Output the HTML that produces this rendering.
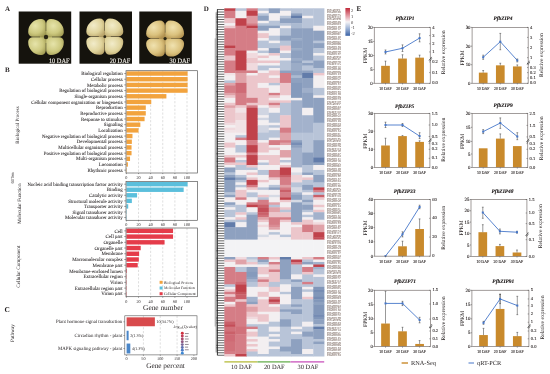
<!DOCTYPE html><html><head><meta charset="utf-8"><style>html,body{margin:0;padding:0;background:#fff;width:550px;height:374px;overflow:hidden}svg{display:block;will-change:transform}</style></head><body>
<svg width="550" height="374" viewBox="0 0 550 374" font-family="Liberation Serif, serif" text-rendering="geometricPrecision">
<defs><radialGradient id="sg0" cx="40%" cy="38%" r="72%"><stop offset="0" stop-color="#e6e4aa"/><stop offset="0.6" stop-color="#cdc97f"/><stop offset="1" stop-color="#a29c54"/></radialGradient><radialGradient id="sg1" cx="40%" cy="38%" r="72%"><stop offset="0" stop-color="#f2ecca"/><stop offset="0.6" stop-color="#e0d49c"/><stop offset="1" stop-color="#bba66c"/></radialGradient><radialGradient id="sg2" cx="40%" cy="38%" r="72%"><stop offset="0" stop-color="#f0e2b0"/><stop offset="0.6" stop-color="#dbc27e"/><stop offset="1" stop-color="#b29250"/></radialGradient></defs>
<text x="5.00" y="11.30" font-size="7.0" font-weight="bold" fill="#231f20">A</text>
<rect x="18.70" y="11.50" width="52.50" height="52.20" fill="#15130d"/>
<rect x="40.00" y="31.00" width="12" height="12" fill="#8e8a48"/>
<path d="M40.87,19.00 H41.22 A4.58,4.58 0 0 1 45.80,23.58 V35.04 A1.76,1.76 0 0 1 44.04,36.80 H32.78 A4.58,4.58 0 0 1 28.20,32.22 V31.67 A12.67,12.67 0 0 1 40.87,19.00 Z" fill="url(#sg0)"/>
<path d="M50.78,19.00 H51.13 A12.67,12.67 0 0 1 63.80,31.67 V32.22 A4.58,4.58 0 0 1 59.22,36.80 H47.96 A1.76,1.76 0 0 1 46.20,35.04 V23.58 A4.58,4.58 0 0 1 50.78,19.00 Z" fill="url(#sg0)"/>
<path d="M32.78,37.20 H44.04 A1.76,1.76 0 0 1 45.80,38.96 V50.42 A4.58,4.58 0 0 1 41.22,55.00 H40.87 A12.67,12.67 0 0 1 28.20,42.33 V41.78 A4.58,4.58 0 0 1 32.78,37.20 Z" fill="url(#sg0)"/>
<path d="M47.96,37.20 H59.22 A4.58,4.58 0 0 1 63.80,41.78 V42.33 A12.67,12.67 0 0 1 51.13,55.00 H50.78 A4.58,4.58 0 0 1 46.20,50.42 V38.96 A1.76,1.76 0 0 1 47.96,37.20 Z" fill="url(#sg0)"/>
<circle cx="46.00" cy="37.00" r="2.2" fill="#2a2614"/>
<text x="69.50" y="62.90" font-size="6.8" text-anchor="end" fill="#f2f0ea" textLength="20.6" lengthAdjust="spacingAndGlyphs" stroke="#f2f0ea" stroke-width="0.15">10 DAF</text>
<rect x="79.50" y="11.50" width="52.50" height="52.20" fill="#15130d"/>
<rect x="98.80" y="30.70" width="12" height="12" fill="#a08e5c"/>
<path d="M99.48,18.60 H99.84 A4.76,4.76 0 0 1 104.60,23.36 V34.67 A1.83,1.83 0 0 1 102.77,36.50 H91.06 A4.76,4.76 0 0 1 86.30,31.74 V31.78 A13.18,13.18 0 0 1 99.48,18.60 Z" fill="url(#sg1)"/>
<path d="M109.76,18.60 H110.12 A13.18,13.18 0 0 1 123.30,31.78 V31.74 A4.76,4.76 0 0 1 118.54,36.50 H106.83 A1.83,1.83 0 0 1 105.00,34.67 V23.36 A4.76,4.76 0 0 1 109.76,18.60 Z" fill="url(#sg1)"/>
<path d="M91.06,36.90 H102.77 A1.83,1.83 0 0 1 104.60,38.73 V50.04 A4.76,4.76 0 0 1 99.84,54.80 H99.48 A13.18,13.18 0 0 1 86.30,41.62 V41.66 A4.76,4.76 0 0 1 91.06,36.90 Z" fill="url(#sg1)"/>
<path d="M106.83,36.90 H118.54 A4.76,4.76 0 0 1 123.30,41.66 V41.62 A13.18,13.18 0 0 1 110.12,54.80 H109.76 A4.76,4.76 0 0 1 105.00,50.04 V38.73 A1.83,1.83 0 0 1 106.83,36.90 Z" fill="url(#sg1)"/>
<circle cx="104.80" cy="36.70" r="1.4" fill="#2a2614"/>
<text x="130.30" y="62.90" font-size="6.8" text-anchor="end" fill="#f2f0ea" textLength="20.6" lengthAdjust="spacingAndGlyphs" stroke="#f2f0ea" stroke-width="0.15">20 DAF</text>
<rect x="139.30" y="11.50" width="52.50" height="52.20" fill="#15130d"/>
<rect x="159.10" y="32.60" width="12" height="12" fill="#9a7e44"/>
<path d="M159.64,20.60 H160.01 A4.89,4.89 0 0 1 164.90,25.49 V36.52 A1.88,1.88 0 0 1 163.02,38.40 H150.99 A4.89,4.89 0 0 1 146.10,33.51 V34.14 A13.54,13.54 0 0 1 159.64,20.60 Z" fill="url(#sg2)"/>
<path d="M170.19,20.60 H170.56 A13.54,13.54 0 0 1 184.10,34.14 V33.51 A4.89,4.89 0 0 1 179.21,38.40 H167.18 A1.88,1.88 0 0 1 165.30,36.52 V25.49 A4.89,4.89 0 0 1 170.19,20.60 Z" fill="url(#sg2)"/>
<path d="M150.99,38.80 H163.02 A1.88,1.88 0 0 1 164.90,40.68 V51.71 A4.89,4.89 0 0 1 160.01,56.60 H159.64 A13.54,13.54 0 0 1 146.10,43.06 V43.69 A4.89,4.89 0 0 1 150.99,38.80 Z" fill="url(#sg2)"/>
<path d="M167.18,38.80 H179.21 A4.89,4.89 0 0 1 184.10,43.69 V43.06 A13.54,13.54 0 0 1 170.56,56.60 H170.19 A4.89,4.89 0 0 1 165.30,51.71 V40.68 A1.88,1.88 0 0 1 167.18,38.80 Z" fill="url(#sg2)"/>
<circle cx="165.10" cy="38.60" r="1.6" fill="#2a2614"/>
<text x="190.10" y="62.90" font-size="6.8" text-anchor="end" fill="#f2f0ea" textLength="20.6" lengthAdjust="spacingAndGlyphs" stroke="#f2f0ea" stroke-width="0.15">30 DAF</text>
<text x="5.00" y="71.70" font-size="7.0" font-weight="bold" fill="#231f20">B</text>
<line x1="138.52" y1="70.70" x2="138.52" y2="173.00" stroke="#b8b8b8" stroke-width="0.45" stroke-dasharray="2.2,1.6"/>
<line x1="150.64" y1="70.70" x2="150.64" y2="173.00" stroke="#b8b8b8" stroke-width="0.45" stroke-dasharray="2.2,1.6"/>
<line x1="162.76" y1="70.70" x2="162.76" y2="173.00" stroke="#b8b8b8" stroke-width="0.45" stroke-dasharray="2.2,1.6"/>
<line x1="174.88" y1="70.70" x2="174.88" y2="173.00" stroke="#b8b8b8" stroke-width="0.45" stroke-dasharray="2.2,1.6"/>
<line x1="187.00" y1="70.70" x2="187.00" y2="173.00" stroke="#b8b8b8" stroke-width="0.45" stroke-dasharray="2.2,1.6"/>
<rect x="126.40" y="71.34" width="61.21" height="4.40" fill="#f2a33e"/>
<text x="122.60" y="75.19" font-size="4.9" text-anchor="end" fill="#231f20" stroke="#231f20" stroke-width="0.06">Biological regulation</text>
<line x1="124.20" y1="73.54" x2="126.00" y2="73.54" stroke="#444" stroke-width="0.5"/>
<rect x="126.40" y="77.03" width="61.21" height="4.40" fill="#f2a33e"/>
<text x="122.60" y="80.88" font-size="4.9" text-anchor="end" fill="#231f20" stroke="#231f20" stroke-width="0.06">Cellular process</text>
<line x1="124.20" y1="79.23" x2="126.00" y2="79.23" stroke="#444" stroke-width="0.5"/>
<rect x="126.40" y="82.71" width="61.21" height="4.40" fill="#f2a33e"/>
<text x="122.60" y="86.56" font-size="4.9" text-anchor="end" fill="#231f20" stroke="#231f20" stroke-width="0.06">Metabolic process</text>
<line x1="124.20" y1="84.91" x2="126.00" y2="84.91" stroke="#444" stroke-width="0.5"/>
<rect x="126.40" y="88.39" width="61.21" height="4.40" fill="#f2a33e"/>
<text x="122.60" y="92.24" font-size="4.9" text-anchor="end" fill="#231f20" stroke="#231f20" stroke-width="0.06">Regulation of biological process</text>
<line x1="124.20" y1="90.59" x2="126.00" y2="90.59" stroke="#444" stroke-width="0.5"/>
<rect x="126.40" y="94.08" width="40.00" height="4.40" fill="#f2a33e"/>
<text x="122.60" y="97.93" font-size="4.9" text-anchor="end" fill="#231f20" stroke="#231f20" stroke-width="0.06">Single-organism process</text>
<line x1="124.20" y1="96.28" x2="126.00" y2="96.28" stroke="#444" stroke-width="0.5"/>
<rect x="126.40" y="99.76" width="24.85" height="4.40" fill="#f2a33e"/>
<text x="122.60" y="103.61" font-size="4.9" text-anchor="end" fill="#231f20" stroke="#231f20" stroke-width="0.06">Cellular component organization or biogenesis</text>
<line x1="124.20" y1="101.96" x2="126.00" y2="101.96" stroke="#444" stroke-width="0.5"/>
<rect x="126.40" y="105.44" width="19.39" height="4.40" fill="#f2a33e"/>
<text x="122.60" y="109.29" font-size="4.9" text-anchor="end" fill="#231f20" stroke="#231f20" stroke-width="0.06">Reproduction</text>
<line x1="124.20" y1="107.64" x2="126.00" y2="107.64" stroke="#444" stroke-width="0.5"/>
<rect x="126.40" y="111.12" width="19.39" height="4.40" fill="#f2a33e"/>
<text x="122.60" y="114.98" font-size="4.9" text-anchor="end" fill="#231f20" stroke="#231f20" stroke-width="0.06">Reproductive process</text>
<line x1="124.20" y1="113.33" x2="126.00" y2="113.33" stroke="#444" stroke-width="0.5"/>
<rect x="126.40" y="116.81" width="18.18" height="4.40" fill="#f2a33e"/>
<text x="122.60" y="120.66" font-size="4.9" text-anchor="end" fill="#231f20" stroke="#231f20" stroke-width="0.06">Response to stimulus</text>
<line x1="124.20" y1="119.01" x2="126.00" y2="119.01" stroke="#444" stroke-width="0.5"/>
<rect x="126.40" y="122.49" width="13.94" height="4.40" fill="#f2a33e"/>
<text x="122.60" y="126.34" font-size="4.9" text-anchor="end" fill="#231f20" stroke="#231f20" stroke-width="0.06">Signaling</text>
<line x1="124.20" y1="124.69" x2="126.00" y2="124.69" stroke="#444" stroke-width="0.5"/>
<rect x="126.40" y="128.18" width="12.12" height="4.40" fill="#f2a33e"/>
<text x="122.60" y="132.03" font-size="4.9" text-anchor="end" fill="#231f20" stroke="#231f20" stroke-width="0.06">Localization</text>
<line x1="124.20" y1="130.38" x2="126.00" y2="130.38" stroke="#444" stroke-width="0.5"/>
<rect x="126.40" y="133.86" width="6.06" height="4.40" fill="#f2a33e"/>
<text x="122.60" y="137.71" font-size="4.9" text-anchor="end" fill="#231f20" stroke="#231f20" stroke-width="0.06">Negative regulation of biological process</text>
<line x1="124.20" y1="136.06" x2="126.00" y2="136.06" stroke="#444" stroke-width="0.5"/>
<rect x="126.40" y="139.54" width="5.45" height="4.40" fill="#f2a33e"/>
<text x="122.60" y="143.39" font-size="4.9" text-anchor="end" fill="#231f20" stroke="#231f20" stroke-width="0.06">Developmental process</text>
<line x1="124.20" y1="141.74" x2="126.00" y2="141.74" stroke="#444" stroke-width="0.5"/>
<rect x="126.40" y="145.23" width="5.15" height="4.40" fill="#f2a33e"/>
<text x="122.60" y="149.08" font-size="4.9" text-anchor="end" fill="#231f20" stroke="#231f20" stroke-width="0.06">Multicellular organismal process</text>
<line x1="124.20" y1="147.43" x2="126.00" y2="147.43" stroke="#444" stroke-width="0.5"/>
<rect x="126.40" y="150.91" width="5.15" height="4.40" fill="#f2a33e"/>
<text x="122.60" y="154.76" font-size="4.9" text-anchor="end" fill="#231f20" stroke="#231f20" stroke-width="0.06">Positive regulation of biological process</text>
<line x1="124.20" y1="153.11" x2="126.00" y2="153.11" stroke="#444" stroke-width="0.5"/>
<rect x="126.40" y="156.59" width="3.64" height="4.40" fill="#f2a33e"/>
<text x="122.60" y="160.44" font-size="4.9" text-anchor="end" fill="#231f20" stroke="#231f20" stroke-width="0.06">Multi-organism process</text>
<line x1="124.20" y1="158.79" x2="126.00" y2="158.79" stroke="#444" stroke-width="0.5"/>
<rect x="126.40" y="162.28" width="1.51" height="4.40" fill="#f2a33e"/>
<text x="122.60" y="166.13" font-size="4.9" text-anchor="end" fill="#231f20" stroke="#231f20" stroke-width="0.06">Locomotion</text>
<line x1="124.20" y1="164.48" x2="126.00" y2="164.48" stroke="#444" stroke-width="0.5"/>
<rect x="126.40" y="167.96" width="0.36" height="4.40" fill="#f2a33e"/>
<text x="122.60" y="171.81" font-size="4.9" text-anchor="end" fill="#231f20" stroke="#231f20" stroke-width="0.06">Rhythmic process</text>
<line x1="124.20" y1="170.16" x2="126.00" y2="170.16" stroke="#444" stroke-width="0.5"/>
<rect x="126.00" y="70.70" width="71.40" height="102.30" fill="none" stroke="#5a5a5a" stroke-width="0.7"/>
<line x1="126.40" y1="173.00" x2="126.40" y2="174.10" stroke="#444" stroke-width="0.5"/>
<text x="126.40" y="178.90" font-size="4.2" text-anchor="middle" fill="#231f20">0</text>
<line x1="138.52" y1="173.00" x2="138.52" y2="174.10" stroke="#444" stroke-width="0.5"/>
<text x="138.52" y="178.90" font-size="4.2" text-anchor="middle" fill="#231f20">20</text>
<line x1="150.64" y1="173.00" x2="150.64" y2="174.10" stroke="#444" stroke-width="0.5"/>
<text x="150.64" y="178.90" font-size="4.2" text-anchor="middle" fill="#231f20">40</text>
<line x1="162.76" y1="173.00" x2="162.76" y2="174.10" stroke="#444" stroke-width="0.5"/>
<text x="162.76" y="178.90" font-size="4.2" text-anchor="middle" fill="#231f20">60</text>
<line x1="174.88" y1="173.00" x2="174.88" y2="174.10" stroke="#444" stroke-width="0.5"/>
<text x="174.88" y="178.90" font-size="4.2" text-anchor="middle" fill="#231f20">80</text>
<line x1="187.00" y1="173.00" x2="187.00" y2="174.10" stroke="#444" stroke-width="0.5"/>
<text x="187.00" y="178.90" font-size="4.2" text-anchor="middle" fill="#231f20">100</text>
<line x1="138.52" y1="181.40" x2="138.52" y2="220.30" stroke="#b8b8b8" stroke-width="0.45" stroke-dasharray="2.2,1.6"/>
<line x1="150.64" y1="181.40" x2="150.64" y2="220.30" stroke="#b8b8b8" stroke-width="0.45" stroke-dasharray="2.2,1.6"/>
<line x1="162.76" y1="181.40" x2="162.76" y2="220.30" stroke="#b8b8b8" stroke-width="0.45" stroke-dasharray="2.2,1.6"/>
<line x1="174.88" y1="181.40" x2="174.88" y2="220.30" stroke="#b8b8b8" stroke-width="0.45" stroke-dasharray="2.2,1.6"/>
<line x1="187.00" y1="181.40" x2="187.00" y2="220.30" stroke="#b8b8b8" stroke-width="0.45" stroke-dasharray="2.2,1.6"/>
<rect x="126.40" y="181.98" width="61.21" height="4.40" fill="#5bbfdc"/>
<text x="122.60" y="185.83" font-size="4.9" text-anchor="end" fill="#231f20" stroke="#231f20" stroke-width="0.06">Nucleic acid binding transcription factor activity</text>
<line x1="124.20" y1="184.18" x2="126.00" y2="184.18" stroke="#444" stroke-width="0.5"/>
<rect x="126.40" y="187.54" width="57.27" height="4.40" fill="#5bbfdc"/>
<text x="122.60" y="191.39" font-size="4.9" text-anchor="end" fill="#231f20" stroke="#231f20" stroke-width="0.06">Binding</text>
<line x1="124.20" y1="189.74" x2="126.00" y2="189.74" stroke="#444" stroke-width="0.5"/>
<rect x="126.40" y="193.09" width="10.67" height="4.40" fill="#5bbfdc"/>
<text x="122.60" y="196.94" font-size="4.9" text-anchor="end" fill="#231f20" stroke="#231f20" stroke-width="0.06">Catalytic activity</text>
<line x1="124.20" y1="195.29" x2="126.00" y2="195.29" stroke="#444" stroke-width="0.5"/>
<rect x="126.40" y="198.65" width="5.45" height="4.40" fill="#5bbfdc"/>
<text x="122.60" y="202.50" font-size="4.9" text-anchor="end" fill="#231f20" stroke="#231f20" stroke-width="0.06">Structural molecule activity</text>
<line x1="124.20" y1="200.85" x2="126.00" y2="200.85" stroke="#444" stroke-width="0.5"/>
<rect x="126.40" y="204.21" width="1.82" height="4.40" fill="#5bbfdc"/>
<text x="122.60" y="208.06" font-size="4.9" text-anchor="end" fill="#231f20" stroke="#231f20" stroke-width="0.06">Transporter activity</text>
<line x1="124.20" y1="206.41" x2="126.00" y2="206.41" stroke="#444" stroke-width="0.5"/>
<rect x="126.40" y="209.76" width="0.35" height="4.40" fill="#5bbfdc"/>
<text x="122.60" y="213.61" font-size="4.9" text-anchor="end" fill="#231f20" stroke="#231f20" stroke-width="0.06">Signal transducer activity</text>
<line x1="124.20" y1="211.96" x2="126.00" y2="211.96" stroke="#444" stroke-width="0.5"/>
<rect x="126.40" y="215.32" width="0.35" height="4.40" fill="#5bbfdc"/>
<text x="122.60" y="219.17" font-size="4.9" text-anchor="end" fill="#231f20" stroke="#231f20" stroke-width="0.06">Molecular transducer activity</text>
<line x1="124.20" y1="217.52" x2="126.00" y2="217.52" stroke="#444" stroke-width="0.5"/>
<rect x="126.00" y="181.40" width="71.40" height="38.90" fill="none" stroke="#5a5a5a" stroke-width="0.7"/>
<line x1="126.40" y1="220.30" x2="126.40" y2="221.40" stroke="#444" stroke-width="0.5"/>
<text x="126.40" y="226.20" font-size="4.2" text-anchor="middle" fill="#231f20">0</text>
<line x1="138.52" y1="220.30" x2="138.52" y2="221.40" stroke="#444" stroke-width="0.5"/>
<text x="138.52" y="226.20" font-size="4.2" text-anchor="middle" fill="#231f20">20</text>
<line x1="150.64" y1="220.30" x2="150.64" y2="221.40" stroke="#444" stroke-width="0.5"/>
<text x="150.64" y="226.20" font-size="4.2" text-anchor="middle" fill="#231f20">40</text>
<line x1="162.76" y1="220.30" x2="162.76" y2="221.40" stroke="#444" stroke-width="0.5"/>
<text x="162.76" y="226.20" font-size="4.2" text-anchor="middle" fill="#231f20">60</text>
<line x1="174.88" y1="220.30" x2="174.88" y2="221.40" stroke="#444" stroke-width="0.5"/>
<text x="174.88" y="226.20" font-size="4.2" text-anchor="middle" fill="#231f20">80</text>
<line x1="187.00" y1="220.30" x2="187.00" y2="221.40" stroke="#444" stroke-width="0.5"/>
<text x="187.00" y="226.20" font-size="4.2" text-anchor="middle" fill="#231f20">100</text>
<line x1="138.52" y1="228.00" x2="138.52" y2="296.70" stroke="#b8b8b8" stroke-width="0.45" stroke-dasharray="2.2,1.6"/>
<line x1="150.64" y1="228.00" x2="150.64" y2="296.70" stroke="#b8b8b8" stroke-width="0.45" stroke-dasharray="2.2,1.6"/>
<line x1="162.76" y1="228.00" x2="162.76" y2="296.70" stroke="#b8b8b8" stroke-width="0.45" stroke-dasharray="2.2,1.6"/>
<line x1="174.88" y1="228.00" x2="174.88" y2="296.70" stroke="#b8b8b8" stroke-width="0.45" stroke-dasharray="2.2,1.6"/>
<line x1="187.00" y1="228.00" x2="187.00" y2="296.70" stroke="#b8b8b8" stroke-width="0.45" stroke-dasharray="2.2,1.6"/>
<rect x="126.40" y="228.66" width="46.66" height="4.40" fill="#e53c4a"/>
<text x="122.60" y="232.51" font-size="4.9" text-anchor="end" fill="#231f20" stroke="#231f20" stroke-width="0.06">Cell</text>
<line x1="124.20" y1="230.86" x2="126.00" y2="230.86" stroke="#444" stroke-width="0.5"/>
<rect x="126.40" y="234.39" width="46.66" height="4.40" fill="#e53c4a"/>
<text x="122.60" y="238.24" font-size="4.9" text-anchor="end" fill="#231f20" stroke="#231f20" stroke-width="0.06">Cell part</text>
<line x1="124.20" y1="236.59" x2="126.00" y2="236.59" stroke="#444" stroke-width="0.5"/>
<rect x="126.40" y="240.11" width="38.18" height="4.40" fill="#e53c4a"/>
<text x="122.60" y="243.96" font-size="4.9" text-anchor="end" fill="#231f20" stroke="#231f20" stroke-width="0.06">Organelle</text>
<line x1="124.20" y1="242.31" x2="126.00" y2="242.31" stroke="#444" stroke-width="0.5"/>
<rect x="126.40" y="245.84" width="14.30" height="4.40" fill="#e53c4a"/>
<text x="122.60" y="249.69" font-size="4.9" text-anchor="end" fill="#231f20" stroke="#231f20" stroke-width="0.06">Organelle part</text>
<line x1="124.20" y1="248.04" x2="126.00" y2="248.04" stroke="#444" stroke-width="0.5"/>
<rect x="126.40" y="251.56" width="12.73" height="4.40" fill="#e53c4a"/>
<text x="122.60" y="255.41" font-size="4.9" text-anchor="end" fill="#231f20" stroke="#231f20" stroke-width="0.06">Membrane</text>
<line x1="124.20" y1="253.76" x2="126.00" y2="253.76" stroke="#444" stroke-width="0.5"/>
<rect x="126.40" y="257.29" width="12.42" height="4.40" fill="#e53c4a"/>
<text x="122.60" y="261.14" font-size="4.9" text-anchor="end" fill="#231f20" stroke="#231f20" stroke-width="0.06">Macromolecular complex</text>
<line x1="124.20" y1="259.49" x2="126.00" y2="259.49" stroke="#444" stroke-width="0.5"/>
<rect x="126.40" y="263.01" width="11.33" height="4.40" fill="#e53c4a"/>
<text x="122.60" y="266.86" font-size="4.9" text-anchor="end" fill="#231f20" stroke="#231f20" stroke-width="0.06">Membrane part</text>
<line x1="124.20" y1="265.21" x2="126.00" y2="265.21" stroke="#444" stroke-width="0.5"/>
<rect x="126.40" y="268.74" width="0.61" height="4.40" fill="#e53c4a"/>
<text x="122.60" y="272.59" font-size="4.9" text-anchor="end" fill="#231f20" stroke="#231f20" stroke-width="0.06">Membrane-enclosed lumen</text>
<line x1="124.20" y1="270.94" x2="126.00" y2="270.94" stroke="#444" stroke-width="0.5"/>
<rect x="126.40" y="274.46" width="0.35" height="4.40" fill="#e53c4a"/>
<text x="122.60" y="278.31" font-size="4.9" text-anchor="end" fill="#231f20" stroke="#231f20" stroke-width="0.06">Extracellular region</text>
<line x1="124.20" y1="276.66" x2="126.00" y2="276.66" stroke="#444" stroke-width="0.5"/>
<rect x="126.40" y="280.19" width="0.35" height="4.40" fill="#e53c4a"/>
<text x="122.60" y="284.04" font-size="4.9" text-anchor="end" fill="#231f20" stroke="#231f20" stroke-width="0.06">Virion</text>
<line x1="124.20" y1="282.39" x2="126.00" y2="282.39" stroke="#444" stroke-width="0.5"/>
<rect x="126.40" y="285.91" width="0.35" height="4.40" fill="#e53c4a"/>
<text x="122.60" y="289.76" font-size="4.9" text-anchor="end" fill="#231f20" stroke="#231f20" stroke-width="0.06">Extracellular region part</text>
<line x1="124.20" y1="288.11" x2="126.00" y2="288.11" stroke="#444" stroke-width="0.5"/>
<rect x="126.40" y="291.64" width="0.35" height="4.40" fill="#e53c4a"/>
<text x="122.60" y="295.49" font-size="4.9" text-anchor="end" fill="#231f20" stroke="#231f20" stroke-width="0.06">Virion part</text>
<line x1="124.20" y1="293.84" x2="126.00" y2="293.84" stroke="#444" stroke-width="0.5"/>
<rect x="126.00" y="228.00" width="71.40" height="68.70" fill="none" stroke="#5a5a5a" stroke-width="0.7"/>
<line x1="126.40" y1="296.70" x2="126.40" y2="297.80" stroke="#444" stroke-width="0.5"/>
<text x="126.40" y="302.60" font-size="4.2" text-anchor="middle" fill="#231f20">0</text>
<line x1="138.52" y1="296.70" x2="138.52" y2="297.80" stroke="#444" stroke-width="0.5"/>
<text x="138.52" y="302.60" font-size="4.2" text-anchor="middle" fill="#231f20">20</text>
<line x1="150.64" y1="296.70" x2="150.64" y2="297.80" stroke="#444" stroke-width="0.5"/>
<text x="150.64" y="302.60" font-size="4.2" text-anchor="middle" fill="#231f20">40</text>
<line x1="162.76" y1="296.70" x2="162.76" y2="297.80" stroke="#444" stroke-width="0.5"/>
<text x="162.76" y="302.60" font-size="4.2" text-anchor="middle" fill="#231f20">60</text>
<line x1="174.88" y1="296.70" x2="174.88" y2="297.80" stroke="#444" stroke-width="0.5"/>
<text x="174.88" y="302.60" font-size="4.2" text-anchor="middle" fill="#231f20">80</text>
<line x1="187.00" y1="296.70" x2="187.00" y2="297.80" stroke="#444" stroke-width="0.5"/>
<text x="187.00" y="302.60" font-size="4.2" text-anchor="middle" fill="#231f20">100</text>
<rect x="159.60" y="280.80" width="3.00" height="3.00" fill="#f2a33e"/>
<text x="164.00" y="283.60" font-size="3.9" fill="#231f20">Biological Process</text>
<rect x="159.60" y="286.50" width="3.00" height="3.00" fill="#5bbfdc"/>
<text x="164.00" y="289.30" font-size="3.9" fill="#231f20">Molecular Function</text>
<rect x="159.60" y="292.20" width="3.00" height="3.00" fill="#e53c4a"/>
<text x="164.00" y="295.00" font-size="3.9" fill="#231f20">Cellular Component</text>
<text x="163.00" y="310.00" font-size="7.35" text-anchor="middle" fill="#231f20">Gene number</text>
<text x="19.30" y="125.00" font-size="5.0" text-anchor="middle" fill="#231f20" transform="rotate(-90 19.3 125.0)">Biological Process</text>
<text x="14.50" y="177.80" font-size="4.6" text-anchor="middle" fill="#231f20" transform="rotate(-90 14.5 177.8)" textLength="10.8" lengthAdjust="spacingAndGlyphs">GO Term</text>
<text x="20.90" y="203.70" font-size="5.1" text-anchor="middle" fill="#231f20" transform="rotate(-90 20.9 203.7)">Molecular Function</text>
<text x="19.70" y="266.70" font-size="5.2" text-anchor="middle" fill="#231f20" transform="rotate(-90 19.7 266.7)">Cellular Component</text>
<text x="4.60" y="311.80" font-size="7.4" font-weight="bold" fill="#231f20">C</text>
<text x="14.20" y="333.00" font-size="5.2" text-anchor="middle" fill="#231f20" transform="rotate(-90 14.2 333.0)">Pathway</text>
<line x1="143.42" y1="315.80" x2="143.42" y2="354.90" stroke="#b8b8b8" stroke-width="0.45" stroke-dasharray="2.2,1.6"/>
<line x1="160.25" y1="315.80" x2="160.25" y2="354.90" stroke="#b8b8b8" stroke-width="0.45" stroke-dasharray="2.2,1.6"/>
<line x1="177.07" y1="315.80" x2="177.07" y2="354.90" stroke="#b8b8b8" stroke-width="0.45" stroke-dasharray="2.2,1.6"/>
<rect x="126.60" y="317.35" width="28.27" height="8.90" fill="#d84a4c"/>
<text x="122.30" y="323.40" font-size="4.85" text-anchor="end" fill="#231f20">Plant hormone signal transduction</text>
<line x1="123.30" y1="321.80" x2="124.80" y2="321.80" stroke="#444" stroke-width="0.45"/>
<text x="156.47" y="323.20" font-size="4.0" fill="#231f20">10(34.7%)</text>
<rect x="126.60" y="330.75" width="2.02" height="9.50" fill="#4a86c8"/>
<text x="122.30" y="337.10" font-size="4.85" text-anchor="end" fill="#231f20">Circadian rhythm - plant</text>
<line x1="123.30" y1="335.50" x2="124.80" y2="335.50" stroke="#444" stroke-width="0.45"/>
<text x="130.22" y="336.90" font-size="4.0" fill="#231f20">2(1.3%)</text>
<rect x="126.60" y="343.55" width="3.70" height="9.90" fill="#4a86c8"/>
<text x="122.30" y="350.10" font-size="4.85" text-anchor="end" fill="#231f20">MAPK signaling pathway - plant</text>
<line x1="123.30" y1="348.50" x2="124.80" y2="348.50" stroke="#444" stroke-width="0.45"/>
<text x="131.90" y="349.90" font-size="4.0" fill="#231f20">4(1.3%)</text>
<rect x="124.8" y="315.8" width="72.20" height="39.10" fill="none" stroke="#555" stroke-width="0.6"/>
<line x1="126.60" y1="354.90" x2="126.60" y2="356.00" stroke="#444" stroke-width="0.45"/>
<text x="126.60" y="360.20" font-size="4.2" text-anchor="middle" fill="#231f20">0</text>
<line x1="143.42" y1="354.90" x2="143.42" y2="356.00" stroke="#444" stroke-width="0.45"/>
<text x="143.42" y="360.20" font-size="4.2" text-anchor="middle" fill="#231f20">50</text>
<line x1="160.25" y1="354.90" x2="160.25" y2="356.00" stroke="#444" stroke-width="0.45"/>
<text x="160.25" y="360.20" font-size="4.2" text-anchor="middle" fill="#231f20">100</text>
<line x1="177.07" y1="354.90" x2="177.07" y2="356.00" stroke="#444" stroke-width="0.45"/>
<text x="177.07" y="360.20" font-size="4.2" text-anchor="middle" fill="#231f20">150</text>
<line x1="193.90" y1="354.90" x2="193.90" y2="356.00" stroke="#444" stroke-width="0.45"/>
<text x="193.90" y="360.20" font-size="4.2" text-anchor="middle" fill="#231f20">200</text>
<text x="165.50" y="367.80" font-size="7.3" text-anchor="middle" fill="#231f20">Gene percent</text>
<text x="173.00" y="327.60" font-size="4.1" fill="#2e2828">-log<tspan font-size="2.7" dy="0.9">10</tspan><tspan dy="-0.9">(Qvalue)</tspan></text>
<circle cx="182.3" cy="333.20" r="1.45" fill="#d0303e"/>
<circle cx="182.3" cy="336.05" r="1.45" fill="#c03a56"/>
<circle cx="182.3" cy="338.90" r="1.45" fill="#a84a6c"/>
<circle cx="182.3" cy="341.75" r="1.45" fill="#905880"/>
<circle cx="182.3" cy="344.60" r="1.45" fill="#786596"/>
<circle cx="182.3" cy="347.45" r="1.45" fill="#6070ae"/>
<circle cx="182.3" cy="350.30" r="1.45" fill="#4c7cc4"/>
<circle cx="182.3" cy="353.15" r="1.45" fill="#3e88d4"/>
<rect x="184.90" y="333.15" width="3.80" height="0.90" fill="#8a8088"/>
<rect x="184.90" y="335.85" width="3.20" height="0.90" fill="#8a8088"/>
<rect x="184.90" y="338.55" width="3.80" height="0.90" fill="#8a8088"/>
<rect x="184.90" y="341.25" width="3.20" height="0.90" fill="#8a8088"/>
<rect x="184.90" y="343.95" width="3.80" height="0.90" fill="#8a8088"/>
<rect x="184.90" y="346.65" width="3.20" height="0.90" fill="#8a8088"/>
<rect x="184.90" y="349.35" width="3.80" height="0.90" fill="#8a8088"/>
<text x="203.70" y="10.90" font-size="7.0" font-weight="bold" fill="#231f20">D</text>
<defs><filter id="hb" x="-2%" y="-1%" width="104%" height="102%"><feGaussianBlur stdDeviation="0.45"/></filter></defs>
<g filter="url(#hb)">
<rect x="224.30" y="8.30" width="11.52" height="2.89" fill="#c0424c"/>
<rect x="224.30" y="10.79" width="11.52" height="7.86" fill="#d57d86"/>
<rect x="224.30" y="18.25" width="11.52" height="5.37" fill="#ecc6cb"/>
<rect x="224.30" y="23.22" width="11.52" height="2.89" fill="#f3eff1"/>
<rect x="224.30" y="25.71" width="11.52" height="2.89" fill="#ecc6cb"/>
<rect x="224.30" y="28.20" width="11.52" height="17.81" fill="#d57d86"/>
<rect x="224.30" y="45.61" width="11.52" height="2.89" fill="#c0424c"/>
<rect x="224.30" y="48.09" width="11.52" height="7.86" fill="#d57d86"/>
<rect x="224.30" y="55.56" width="11.52" height="5.37" fill="#ecc6cb"/>
<rect x="224.30" y="60.53" width="11.52" height="12.84" fill="#d57d86"/>
<rect x="224.30" y="72.97" width="11.52" height="2.89" fill="#f1e3e6"/>
<rect x="224.30" y="75.45" width="11.52" height="5.37" fill="#f3eff1"/>
<rect x="224.30" y="80.43" width="11.52" height="2.89" fill="#b8c4d8"/>
<rect x="224.30" y="82.91" width="11.52" height="2.89" fill="#e0a2a8"/>
<rect x="224.30" y="85.40" width="11.52" height="7.86" fill="#d57d86"/>
<rect x="224.30" y="92.86" width="11.52" height="2.89" fill="#e0a2a8"/>
<rect x="224.30" y="95.35" width="11.52" height="2.89" fill="#ecc6cb"/>
<rect x="224.30" y="97.84" width="11.52" height="5.37" fill="#f3eff1"/>
<rect x="224.30" y="102.81" width="11.52" height="2.89" fill="#ecc6cb"/>
<rect x="224.30" y="105.30" width="11.52" height="2.89" fill="#e0a2a8"/>
<rect x="224.30" y="107.79" width="11.52" height="15.32" fill="#ecc6cb"/>
<rect x="224.30" y="122.71" width="11.52" height="2.89" fill="#f0dade"/>
<rect x="224.30" y="125.20" width="11.52" height="2.89" fill="#f3eff1"/>
<rect x="224.30" y="127.68" width="11.52" height="2.89" fill="#f0dade"/>
<rect x="224.30" y="130.17" width="11.52" height="2.89" fill="#f1e3e6"/>
<rect x="224.30" y="132.66" width="11.52" height="10.35" fill="#f3eff1"/>
<rect x="224.30" y="142.61" width="11.52" height="5.37" fill="#ecc6cb"/>
<rect x="224.30" y="147.58" width="11.52" height="7.86" fill="#f3eff1"/>
<rect x="224.30" y="155.04" width="11.52" height="2.89" fill="#ecc6cb"/>
<rect x="224.30" y="157.53" width="11.52" height="5.37" fill="#d57d86"/>
<rect x="224.30" y="162.50" width="11.52" height="2.89" fill="#ecc6cb"/>
<rect x="224.30" y="164.99" width="11.52" height="2.89" fill="#f3eff1"/>
<rect x="224.30" y="167.48" width="11.52" height="5.37" fill="#8ea1c0"/>
<rect x="224.30" y="172.45" width="11.52" height="2.89" fill="#b8c4d8"/>
<rect x="224.30" y="174.94" width="11.52" height="2.89" fill="#8ea1c0"/>
<rect x="224.30" y="177.43" width="11.52" height="2.89" fill="#627caa"/>
<rect x="224.30" y="179.91" width="11.52" height="12.84" fill="#8ea1c0"/>
<rect x="224.30" y="192.35" width="11.52" height="2.89" fill="#b8c4d8"/>
<rect x="224.30" y="194.84" width="11.52" height="2.89" fill="#8ea1c0"/>
<rect x="224.30" y="197.32" width="11.52" height="5.37" fill="#f3eff1"/>
<rect x="224.30" y="202.30" width="11.52" height="2.89" fill="#8ea1c0"/>
<rect x="224.30" y="204.78" width="11.52" height="2.89" fill="#b8c4d8"/>
<rect x="224.30" y="207.27" width="11.52" height="2.89" fill="#f3eff1"/>
<rect x="224.30" y="209.76" width="11.52" height="7.86" fill="#b8c4d8"/>
<rect x="224.30" y="217.22" width="11.52" height="2.89" fill="#f3eff1"/>
<rect x="224.30" y="219.71" width="11.52" height="2.89" fill="#b8c4d8"/>
<rect x="224.30" y="222.19" width="11.52" height="5.37" fill="#627caa"/>
<rect x="224.30" y="227.17" width="11.52" height="12.84" fill="#8ea1c0"/>
<rect x="224.30" y="239.60" width="11.52" height="17.81" fill="#f3f3f5"/>
<rect x="224.30" y="257.01" width="11.52" height="2.89" fill="#8ea1c0"/>
<rect x="224.30" y="259.50" width="11.52" height="2.89" fill="#ecc6cb"/>
<rect x="224.30" y="261.99" width="11.52" height="5.37" fill="#f3eff1"/>
<rect x="224.30" y="266.96" width="11.52" height="17.81" fill="#d57d86"/>
<rect x="224.30" y="284.37" width="11.52" height="2.89" fill="#b8c4d8"/>
<rect x="224.30" y="286.86" width="11.52" height="2.89" fill="#f3eff1"/>
<rect x="224.30" y="289.35" width="11.52" height="2.89" fill="#ecc6cb"/>
<rect x="224.30" y="291.83" width="11.52" height="2.89" fill="#d57d86"/>
<rect x="224.30" y="294.32" width="11.52" height="2.89" fill="#ecc6cb"/>
<rect x="224.30" y="296.81" width="11.52" height="5.37" fill="#d57d86"/>
<rect x="224.30" y="301.78" width="11.52" height="2.89" fill="#f3eff1"/>
<rect x="224.30" y="304.27" width="11.52" height="2.89" fill="#ecc6cb"/>
<rect x="224.30" y="306.76" width="11.52" height="15.32" fill="#d57d86"/>
<rect x="224.30" y="321.68" width="11.52" height="2.89" fill="#ca6069"/>
<rect x="224.30" y="324.17" width="11.52" height="2.89" fill="#c44e58"/>
<rect x="224.30" y="326.65" width="11.52" height="5.37" fill="#d1717a"/>
<rect x="224.30" y="331.63" width="11.52" height="2.89" fill="#ca6069"/>
<rect x="224.30" y="334.12" width="11.52" height="7.86" fill="#cf6b75"/>
<rect x="224.30" y="341.58" width="11.52" height="10.35" fill="#d1717a"/>
<rect x="224.30" y="351.53" width="11.52" height="2.89" fill="#d57d86"/>
<rect x="224.30" y="354.01" width="11.52" height="2.49" fill="#ecc6cb"/>
<rect x="235.42" y="8.30" width="11.52" height="2.89" fill="#b8c4d8"/>
<rect x="235.42" y="10.79" width="11.52" height="7.86" fill="#f3eff1"/>
<rect x="235.42" y="18.25" width="11.52" height="7.86" fill="#c0424c"/>
<rect x="235.42" y="25.71" width="11.52" height="25.27" fill="#d57d86"/>
<rect x="235.42" y="50.58" width="11.52" height="20.30" fill="#c0424c"/>
<rect x="235.42" y="70.48" width="11.52" height="2.89" fill="#d57d86"/>
<rect x="235.42" y="72.97" width="11.52" height="10.35" fill="#e0a2a8"/>
<rect x="235.42" y="82.91" width="11.52" height="10.35" fill="#cf6b75"/>
<rect x="235.42" y="92.86" width="11.52" height="12.84" fill="#d57d86"/>
<rect x="235.42" y="105.30" width="11.52" height="2.89" fill="#ecc6cb"/>
<rect x="235.42" y="107.79" width="11.52" height="5.37" fill="#f1e3e6"/>
<rect x="235.42" y="112.76" width="11.52" height="7.86" fill="#eed2d6"/>
<rect x="235.42" y="120.22" width="11.52" height="12.84" fill="#f1e3e6"/>
<rect x="235.42" y="132.66" width="11.52" height="2.89" fill="#f3eff1"/>
<rect x="235.42" y="135.14" width="11.52" height="2.89" fill="#b8c4d8"/>
<rect x="235.42" y="137.63" width="11.52" height="2.89" fill="#d57d86"/>
<rect x="235.42" y="140.12" width="11.52" height="5.37" fill="#f3eff1"/>
<rect x="235.42" y="145.09" width="11.52" height="7.86" fill="#b8c4d8"/>
<rect x="235.42" y="152.55" width="11.52" height="2.89" fill="#f3eff1"/>
<rect x="235.42" y="155.04" width="11.52" height="2.89" fill="#ecc6cb"/>
<rect x="235.42" y="157.53" width="11.52" height="2.89" fill="#f3eff1"/>
<rect x="235.42" y="160.02" width="11.52" height="2.89" fill="#b8c4d8"/>
<rect x="235.42" y="162.50" width="11.52" height="2.89" fill="#ecc6cb"/>
<rect x="235.42" y="164.99" width="11.52" height="5.37" fill="#b8c4d8"/>
<rect x="235.42" y="169.96" width="11.52" height="5.37" fill="#f3eff1"/>
<rect x="235.42" y="174.94" width="11.52" height="2.89" fill="#b8c4d8"/>
<rect x="235.42" y="177.43" width="11.52" height="2.89" fill="#8ea1c0"/>
<rect x="235.42" y="179.91" width="11.52" height="2.89" fill="#b8c4d8"/>
<rect x="235.42" y="182.40" width="11.52" height="2.89" fill="#f3eff1"/>
<rect x="235.42" y="184.89" width="11.52" height="2.89" fill="#b8c4d8"/>
<rect x="235.42" y="187.37" width="11.52" height="2.89" fill="#f3eff1"/>
<rect x="235.42" y="189.86" width="11.52" height="7.86" fill="#ecc6cb"/>
<rect x="235.42" y="197.32" width="11.52" height="2.89" fill="#d57d86"/>
<rect x="235.42" y="199.81" width="11.52" height="5.37" fill="#f3eff1"/>
<rect x="235.42" y="204.78" width="11.52" height="7.86" fill="#b8c4d8"/>
<rect x="235.42" y="212.25" width="11.52" height="2.89" fill="#ecc6cb"/>
<rect x="235.42" y="214.73" width="11.52" height="2.89" fill="#f3eff1"/>
<rect x="235.42" y="217.22" width="11.52" height="2.89" fill="#ecc6cb"/>
<rect x="235.42" y="219.71" width="11.52" height="2.89" fill="#b8c4d8"/>
<rect x="235.42" y="222.19" width="11.52" height="5.37" fill="#f3eff1"/>
<rect x="235.42" y="227.17" width="11.52" height="12.84" fill="#8ea1c0"/>
<rect x="235.42" y="239.60" width="11.52" height="17.81" fill="#f3f3f5"/>
<rect x="235.42" y="257.01" width="11.52" height="2.89" fill="#f0dade"/>
<rect x="235.42" y="259.50" width="11.52" height="5.37" fill="#e0a2a8"/>
<rect x="235.42" y="264.48" width="11.52" height="2.89" fill="#f3eff1"/>
<rect x="235.42" y="266.96" width="11.52" height="5.37" fill="#b8c4d8"/>
<rect x="235.42" y="271.94" width="11.52" height="10.35" fill="#d57d86"/>
<rect x="235.42" y="281.89" width="11.52" height="2.89" fill="#cf6b75"/>
<rect x="235.42" y="284.37" width="11.52" height="7.86" fill="#c0424c"/>
<rect x="235.42" y="291.83" width="11.52" height="2.89" fill="#c6545d"/>
<rect x="235.42" y="294.32" width="11.52" height="5.37" fill="#ca6069"/>
<rect x="235.42" y="299.30" width="11.52" height="2.89" fill="#ecc6cb"/>
<rect x="235.42" y="301.78" width="11.52" height="25.27" fill="#d57d86"/>
<rect x="235.42" y="326.65" width="11.52" height="7.86" fill="#d1717a"/>
<rect x="235.42" y="334.12" width="11.52" height="20.30" fill="#d57d86"/>
<rect x="235.42" y="354.01" width="11.52" height="2.49" fill="#c0424c"/>
<rect x="246.54" y="8.30" width="11.52" height="2.89" fill="#d57d86"/>
<rect x="246.54" y="10.79" width="11.52" height="5.37" fill="#c0424c"/>
<rect x="246.54" y="15.76" width="11.52" height="7.86" fill="#de9aa2"/>
<rect x="246.54" y="23.22" width="11.52" height="2.89" fill="#d57d86"/>
<rect x="246.54" y="25.71" width="11.52" height="2.89" fill="#c0424c"/>
<rect x="246.54" y="28.20" width="11.52" height="22.78" fill="#d57d86"/>
<rect x="246.54" y="50.58" width="11.52" height="2.89" fill="#f3eff1"/>
<rect x="246.54" y="53.07" width="11.52" height="5.37" fill="#f0dade"/>
<rect x="246.54" y="58.04" width="11.52" height="5.37" fill="#ecc6cb"/>
<rect x="246.54" y="63.02" width="11.52" height="7.86" fill="#f0dade"/>
<rect x="246.54" y="70.48" width="11.52" height="2.89" fill="#d57d86"/>
<rect x="246.54" y="72.97" width="11.52" height="2.89" fill="#f3eff1"/>
<rect x="246.54" y="75.45" width="11.52" height="22.78" fill="#ecc6cb"/>
<rect x="246.54" y="97.84" width="11.52" height="5.37" fill="#d57d86"/>
<rect x="246.54" y="102.81" width="11.52" height="2.89" fill="#ecc6cb"/>
<rect x="246.54" y="105.30" width="11.52" height="2.89" fill="#d57d86"/>
<rect x="246.54" y="107.79" width="11.52" height="32.73" fill="#c0424c"/>
<rect x="246.54" y="140.12" width="11.52" height="5.37" fill="#d57d86"/>
<rect x="246.54" y="145.09" width="11.52" height="7.86" fill="#c0424c"/>
<rect x="246.54" y="152.55" width="11.52" height="2.89" fill="#d57d86"/>
<rect x="246.54" y="155.04" width="11.52" height="10.35" fill="#c0424c"/>
<rect x="246.54" y="164.99" width="11.52" height="2.89" fill="#ecc6cb"/>
<rect x="246.54" y="167.48" width="11.52" height="2.89" fill="#b8c4d8"/>
<rect x="246.54" y="169.96" width="11.52" height="2.89" fill="#f3eff1"/>
<rect x="246.54" y="172.45" width="11.52" height="2.89" fill="#ecc6cb"/>
<rect x="246.54" y="174.94" width="11.52" height="2.89" fill="#f3eff1"/>
<rect x="246.54" y="177.43" width="11.52" height="2.89" fill="#ecc6cb"/>
<rect x="246.54" y="179.91" width="11.52" height="5.37" fill="#c0424c"/>
<rect x="246.54" y="184.89" width="11.52" height="2.89" fill="#d57d86"/>
<rect x="246.54" y="187.37" width="11.52" height="2.89" fill="#ecc6cb"/>
<rect x="246.54" y="189.86" width="11.52" height="2.89" fill="#f3eff1"/>
<rect x="246.54" y="192.35" width="11.52" height="5.37" fill="#b8c4d8"/>
<rect x="246.54" y="197.32" width="11.52" height="5.37" fill="#f3eff1"/>
<rect x="246.54" y="202.30" width="11.52" height="2.89" fill="#d57d86"/>
<rect x="246.54" y="204.78" width="11.52" height="2.89" fill="#c0424c"/>
<rect x="246.54" y="207.27" width="11.52" height="5.37" fill="#f3eff1"/>
<rect x="246.54" y="212.25" width="11.52" height="2.89" fill="#b8c4d8"/>
<rect x="246.54" y="214.73" width="11.52" height="25.27" fill="#8ea1c0"/>
<rect x="246.54" y="239.60" width="11.52" height="17.81" fill="#f3f3f5"/>
<rect x="246.54" y="257.01" width="11.52" height="2.89" fill="#b8c4d8"/>
<rect x="246.54" y="259.50" width="11.52" height="2.89" fill="#d6dae4"/>
<rect x="246.54" y="261.99" width="11.52" height="2.89" fill="#ecc6cb"/>
<rect x="246.54" y="264.48" width="11.52" height="2.89" fill="#f3eff1"/>
<rect x="246.54" y="266.96" width="11.52" height="5.37" fill="#8ea1c0"/>
<rect x="246.54" y="271.94" width="11.52" height="5.37" fill="#859abc"/>
<rect x="246.54" y="276.91" width="11.52" height="2.89" fill="#8ea1c0"/>
<rect x="246.54" y="279.40" width="11.52" height="2.89" fill="#a3b2cc"/>
<rect x="246.54" y="281.89" width="11.52" height="5.37" fill="#b8c4d8"/>
<rect x="246.54" y="286.86" width="11.52" height="10.35" fill="#f3eff1"/>
<rect x="246.54" y="296.81" width="11.52" height="5.37" fill="#a3b2cc"/>
<rect x="246.54" y="301.78" width="11.52" height="2.89" fill="#8ea1c0"/>
<rect x="246.54" y="304.27" width="11.52" height="2.89" fill="#ecc6cb"/>
<rect x="246.54" y="306.76" width="11.52" height="5.37" fill="#e0a2a8"/>
<rect x="246.54" y="311.73" width="11.52" height="5.37" fill="#ecc6cb"/>
<rect x="246.54" y="316.71" width="11.52" height="2.89" fill="#f0dade"/>
<rect x="246.54" y="319.19" width="11.52" height="5.37" fill="#f3eff1"/>
<rect x="246.54" y="324.17" width="11.52" height="2.89" fill="#b8c4d8"/>
<rect x="246.54" y="326.65" width="11.52" height="2.89" fill="#d57d86"/>
<rect x="246.54" y="329.14" width="11.52" height="2.89" fill="#f3eff1"/>
<rect x="246.54" y="331.63" width="11.52" height="5.37" fill="#ecc6cb"/>
<rect x="246.54" y="336.60" width="11.52" height="2.89" fill="#f3eff1"/>
<rect x="246.54" y="339.09" width="11.52" height="2.89" fill="#ecc6cb"/>
<rect x="246.54" y="341.58" width="11.52" height="2.89" fill="#f3eff1"/>
<rect x="246.54" y="344.06" width="11.52" height="2.89" fill="#ecc6cb"/>
<rect x="246.54" y="346.55" width="11.52" height="2.89" fill="#f3eff1"/>
<rect x="246.54" y="349.04" width="11.52" height="2.89" fill="#ecc6cb"/>
<rect x="246.54" y="351.53" width="11.52" height="4.97" fill="#b8c4d8"/>
<rect x="257.67" y="8.30" width="11.52" height="2.89" fill="#b8c4d8"/>
<rect x="257.67" y="10.79" width="11.52" height="2.89" fill="#f3eff1"/>
<rect x="257.67" y="13.27" width="11.52" height="2.89" fill="#b8c4d8"/>
<rect x="257.67" y="15.76" width="11.52" height="5.37" fill="#8ea1c0"/>
<rect x="257.67" y="20.74" width="11.52" height="2.89" fill="#f3eff1"/>
<rect x="257.67" y="23.22" width="11.52" height="2.89" fill="#b8c4d8"/>
<rect x="257.67" y="25.71" width="11.52" height="5.37" fill="#8ea1c0"/>
<rect x="257.67" y="30.68" width="11.52" height="2.89" fill="#f3eff1"/>
<rect x="257.67" y="33.17" width="11.52" height="5.37" fill="#ecc6cb"/>
<rect x="257.67" y="38.15" width="11.52" height="2.89" fill="#f3eff1"/>
<rect x="257.67" y="40.63" width="11.52" height="7.86" fill="#b8c4d8"/>
<rect x="257.67" y="48.09" width="11.52" height="2.89" fill="#f3eff1"/>
<rect x="257.67" y="50.58" width="11.52" height="2.89" fill="#b8c4d8"/>
<rect x="257.67" y="53.07" width="11.52" height="2.89" fill="#f3eff1"/>
<rect x="257.67" y="55.56" width="11.52" height="2.89" fill="#ecc6cb"/>
<rect x="257.67" y="58.04" width="11.52" height="2.89" fill="#f3eff1"/>
<rect x="257.67" y="60.53" width="11.52" height="2.89" fill="#ecc6cb"/>
<rect x="257.67" y="63.02" width="11.52" height="2.89" fill="#f3eff1"/>
<rect x="257.67" y="65.50" width="11.52" height="5.37" fill="#b8c4d8"/>
<rect x="257.67" y="70.48" width="11.52" height="2.89" fill="#f3eff1"/>
<rect x="257.67" y="72.97" width="11.52" height="10.35" fill="#ecc6cb"/>
<rect x="257.67" y="82.91" width="11.52" height="5.37" fill="#f3eff1"/>
<rect x="257.67" y="87.89" width="11.52" height="17.81" fill="#ecc6cb"/>
<rect x="257.67" y="105.30" width="11.52" height="2.89" fill="#f3eff1"/>
<rect x="257.67" y="107.79" width="11.52" height="7.86" fill="#d0d5e2"/>
<rect x="257.67" y="115.25" width="11.52" height="2.89" fill="#f3eff1"/>
<rect x="257.67" y="117.73" width="11.52" height="2.89" fill="#d0d5e2"/>
<rect x="257.67" y="120.22" width="11.52" height="5.37" fill="#f3eff1"/>
<rect x="257.67" y="125.20" width="11.52" height="7.86" fill="#d0d5e2"/>
<rect x="257.67" y="132.66" width="11.52" height="7.86" fill="#b8c4d8"/>
<rect x="257.67" y="140.12" width="11.52" height="2.89" fill="#f3eff1"/>
<rect x="257.67" y="142.61" width="11.52" height="10.35" fill="#ecc6cb"/>
<rect x="257.67" y="152.55" width="11.52" height="2.89" fill="#f3eff1"/>
<rect x="257.67" y="155.04" width="11.52" height="5.37" fill="#ecc6cb"/>
<rect x="257.67" y="160.02" width="11.52" height="2.89" fill="#f3eff1"/>
<rect x="257.67" y="162.50" width="11.52" height="2.89" fill="#b8c4d8"/>
<rect x="257.67" y="164.99" width="11.52" height="5.37" fill="#f3eff1"/>
<rect x="257.67" y="169.96" width="11.52" height="5.37" fill="#b8c4d8"/>
<rect x="257.67" y="174.94" width="11.52" height="5.37" fill="#f3eff1"/>
<rect x="257.67" y="179.91" width="11.52" height="2.89" fill="#ecc6cb"/>
<rect x="257.67" y="182.40" width="11.52" height="5.37" fill="#f3eff1"/>
<rect x="257.67" y="187.37" width="11.52" height="2.89" fill="#b8c4d8"/>
<rect x="257.67" y="189.86" width="11.52" height="5.37" fill="#f3eff1"/>
<rect x="257.67" y="194.84" width="11.52" height="2.89" fill="#ecc6cb"/>
<rect x="257.67" y="197.32" width="11.52" height="2.89" fill="#b8c4d8"/>
<rect x="257.67" y="199.81" width="11.52" height="5.37" fill="#d57d86"/>
<rect x="257.67" y="204.78" width="11.52" height="2.89" fill="#ca6069"/>
<rect x="257.67" y="207.27" width="11.52" height="5.37" fill="#c44e58"/>
<rect x="257.67" y="212.25" width="11.52" height="2.89" fill="#ca6069"/>
<rect x="257.67" y="214.73" width="11.52" height="2.89" fill="#d1717a"/>
<rect x="257.67" y="217.22" width="11.52" height="2.89" fill="#e0a2a8"/>
<rect x="257.67" y="219.71" width="11.52" height="2.89" fill="#ecc6cb"/>
<rect x="257.67" y="222.19" width="11.52" height="2.89" fill="#f3eff1"/>
<rect x="257.67" y="224.68" width="11.52" height="2.89" fill="#f0dade"/>
<rect x="257.67" y="227.17" width="11.52" height="7.86" fill="#f3eff1"/>
<rect x="257.67" y="234.63" width="11.52" height="2.89" fill="#d6dae4"/>
<rect x="257.67" y="237.12" width="11.52" height="2.89" fill="#f3eff1"/>
<rect x="257.67" y="239.60" width="11.52" height="17.81" fill="#f3f3f5"/>
<rect x="257.67" y="257.01" width="11.52" height="2.89" fill="#d57d86"/>
<rect x="257.67" y="259.50" width="11.52" height="2.89" fill="#8ea1c0"/>
<rect x="257.67" y="261.99" width="11.52" height="2.89" fill="#b8c4d8"/>
<rect x="257.67" y="264.48" width="11.52" height="2.89" fill="#f3eff1"/>
<rect x="257.67" y="266.96" width="11.52" height="7.86" fill="#ecc6cb"/>
<rect x="257.67" y="274.42" width="11.52" height="2.89" fill="#f3eff1"/>
<rect x="257.67" y="276.91" width="11.52" height="2.89" fill="#ecc6cb"/>
<rect x="257.67" y="279.40" width="11.52" height="2.89" fill="#d57d86"/>
<rect x="257.67" y="281.89" width="11.52" height="5.37" fill="#ecc6cb"/>
<rect x="257.67" y="286.86" width="11.52" height="5.37" fill="#f3eff1"/>
<rect x="257.67" y="291.83" width="11.52" height="5.37" fill="#ecc6cb"/>
<rect x="257.67" y="296.81" width="11.52" height="2.89" fill="#f3eff1"/>
<rect x="257.67" y="299.30" width="11.52" height="12.84" fill="#ecc6cb"/>
<rect x="257.67" y="311.73" width="11.52" height="2.89" fill="#f3eff1"/>
<rect x="257.67" y="314.22" width="11.52" height="7.86" fill="#ecc6cb"/>
<rect x="257.67" y="321.68" width="11.52" height="2.89" fill="#f3eff1"/>
<rect x="257.67" y="324.17" width="11.52" height="12.84" fill="#b8c4d8"/>
<rect x="257.67" y="336.60" width="11.52" height="17.81" fill="#f3eff1"/>
<rect x="257.67" y="354.01" width="11.52" height="2.49" fill="#b8c4d8"/>
<rect x="268.79" y="8.30" width="11.52" height="5.37" fill="#8ea1c0"/>
<rect x="268.79" y="13.27" width="11.52" height="7.86" fill="#f3eff1"/>
<rect x="268.79" y="20.74" width="11.52" height="5.37" fill="#b8c4d8"/>
<rect x="268.79" y="25.71" width="11.52" height="2.89" fill="#8ea1c0"/>
<rect x="268.79" y="28.20" width="11.52" height="7.86" fill="#f3eff1"/>
<rect x="268.79" y="35.66" width="11.52" height="5.37" fill="#b8c4d8"/>
<rect x="268.79" y="40.63" width="11.52" height="2.89" fill="#f3eff1"/>
<rect x="268.79" y="43.12" width="11.52" height="5.37" fill="#b8c4d8"/>
<rect x="268.79" y="48.09" width="11.52" height="5.37" fill="#8ea1c0"/>
<rect x="268.79" y="53.07" width="11.52" height="2.89" fill="#ecc6cb"/>
<rect x="268.79" y="55.56" width="11.52" height="5.37" fill="#f3eff1"/>
<rect x="268.79" y="60.53" width="11.52" height="2.89" fill="#ecc6cb"/>
<rect x="268.79" y="63.02" width="11.52" height="2.89" fill="#f3eff1"/>
<rect x="268.79" y="65.50" width="11.52" height="2.89" fill="#b8c4d8"/>
<rect x="268.79" y="67.99" width="11.52" height="2.89" fill="#f3eff1"/>
<rect x="268.79" y="70.48" width="11.52" height="5.37" fill="#ecc6cb"/>
<rect x="268.79" y="75.45" width="11.52" height="2.89" fill="#f3eff1"/>
<rect x="268.79" y="77.94" width="11.52" height="5.37" fill="#ecc6cb"/>
<rect x="268.79" y="82.91" width="11.52" height="2.89" fill="#b8c4d8"/>
<rect x="268.79" y="85.40" width="11.52" height="7.86" fill="#f3eff1"/>
<rect x="268.79" y="92.86" width="11.52" height="2.89" fill="#d57d86"/>
<rect x="268.79" y="95.35" width="11.52" height="2.89" fill="#ecc6cb"/>
<rect x="268.79" y="97.84" width="11.52" height="2.89" fill="#f3eff1"/>
<rect x="268.79" y="100.32" width="11.52" height="2.89" fill="#ecc6cb"/>
<rect x="268.79" y="102.81" width="11.52" height="2.89" fill="#d57d86"/>
<rect x="268.79" y="105.30" width="11.52" height="2.89" fill="#ecc6cb"/>
<rect x="268.79" y="107.79" width="11.52" height="5.37" fill="#f3eff1"/>
<rect x="268.79" y="112.76" width="11.52" height="10.35" fill="#b8c4d8"/>
<rect x="268.79" y="122.71" width="11.52" height="2.89" fill="#f3eff1"/>
<rect x="268.79" y="125.20" width="11.52" height="2.89" fill="#b8c4d8"/>
<rect x="268.79" y="127.68" width="11.52" height="2.89" fill="#f3eff1"/>
<rect x="268.79" y="130.17" width="11.52" height="7.86" fill="#b8c4d8"/>
<rect x="268.79" y="137.63" width="11.52" height="2.89" fill="#f3eff1"/>
<rect x="268.79" y="140.12" width="11.52" height="5.37" fill="#d57d86"/>
<rect x="268.79" y="145.09" width="11.52" height="2.89" fill="#f3eff1"/>
<rect x="268.79" y="147.58" width="11.52" height="2.89" fill="#ecc6cb"/>
<rect x="268.79" y="150.07" width="11.52" height="5.37" fill="#f3eff1"/>
<rect x="268.79" y="155.04" width="11.52" height="10.35" fill="#ecc6cb"/>
<rect x="268.79" y="164.99" width="11.52" height="5.37" fill="#f3eff1"/>
<rect x="268.79" y="169.96" width="11.52" height="7.86" fill="#d57d86"/>
<rect x="268.79" y="177.43" width="11.52" height="2.89" fill="#ecc6cb"/>
<rect x="268.79" y="179.91" width="11.52" height="5.37" fill="#f3eff1"/>
<rect x="268.79" y="184.89" width="11.52" height="2.89" fill="#b8c4d8"/>
<rect x="268.79" y="187.37" width="11.52" height="2.89" fill="#8ea1c0"/>
<rect x="268.79" y="189.86" width="11.52" height="5.37" fill="#f3eff1"/>
<rect x="268.79" y="194.84" width="11.52" height="2.89" fill="#d6dae4"/>
<rect x="268.79" y="197.32" width="11.52" height="5.37" fill="#f3eff1"/>
<rect x="268.79" y="202.30" width="11.52" height="2.89" fill="#e0a2a8"/>
<rect x="268.79" y="204.78" width="11.52" height="2.89" fill="#b8c4d8"/>
<rect x="268.79" y="207.27" width="11.52" height="5.37" fill="#e0a2a8"/>
<rect x="268.79" y="212.25" width="11.52" height="5.37" fill="#ecc6cb"/>
<rect x="268.79" y="217.22" width="11.52" height="7.86" fill="#d57d86"/>
<rect x="268.79" y="224.68" width="11.52" height="2.89" fill="#da8c94"/>
<rect x="268.79" y="227.17" width="11.52" height="2.89" fill="#e0a2a8"/>
<rect x="268.79" y="229.66" width="11.52" height="2.89" fill="#f3eff1"/>
<rect x="268.79" y="232.14" width="11.52" height="2.89" fill="#b8c4d8"/>
<rect x="268.79" y="234.63" width="11.52" height="5.37" fill="#f3eff1"/>
<rect x="268.79" y="239.60" width="11.52" height="17.81" fill="#f3f3f5"/>
<rect x="268.79" y="257.01" width="11.52" height="2.89" fill="#ecc6cb"/>
<rect x="268.79" y="259.50" width="11.52" height="2.89" fill="#f3eff1"/>
<rect x="268.79" y="261.99" width="11.52" height="2.89" fill="#d57d86"/>
<rect x="268.79" y="264.48" width="11.52" height="5.37" fill="#ecc6cb"/>
<rect x="268.79" y="269.45" width="11.52" height="2.89" fill="#d57d86"/>
<rect x="268.79" y="271.94" width="11.52" height="10.35" fill="#ecc6cb"/>
<rect x="268.79" y="281.89" width="11.52" height="5.37" fill="#b8c4d8"/>
<rect x="268.79" y="286.86" width="11.52" height="5.37" fill="#ecc6cb"/>
<rect x="268.79" y="291.83" width="11.52" height="5.37" fill="#f3eff1"/>
<rect x="268.79" y="296.81" width="11.52" height="2.89" fill="#d57d86"/>
<rect x="268.79" y="299.30" width="11.52" height="2.89" fill="#c0424c"/>
<rect x="268.79" y="301.78" width="11.52" height="2.89" fill="#d57d86"/>
<rect x="268.79" y="304.27" width="11.52" height="2.89" fill="#f3eff1"/>
<rect x="268.79" y="306.76" width="11.52" height="5.37" fill="#ecc6cb"/>
<rect x="268.79" y="311.73" width="11.52" height="10.35" fill="#f3eff1"/>
<rect x="268.79" y="321.68" width="11.52" height="5.37" fill="#b8c4d8"/>
<rect x="268.79" y="326.65" width="11.52" height="5.37" fill="#f3eff1"/>
<rect x="268.79" y="331.63" width="11.52" height="2.89" fill="#b8c4d8"/>
<rect x="268.79" y="334.12" width="11.52" height="2.89" fill="#f3eff1"/>
<rect x="268.79" y="336.60" width="11.52" height="2.89" fill="#b8c4d8"/>
<rect x="268.79" y="339.09" width="11.52" height="2.89" fill="#f3eff1"/>
<rect x="268.79" y="341.58" width="11.52" height="5.37" fill="#b8c4d8"/>
<rect x="268.79" y="346.55" width="11.52" height="2.89" fill="#f3eff1"/>
<rect x="268.79" y="349.04" width="11.52" height="7.46" fill="#b8c4d8"/>
<rect x="279.91" y="8.30" width="11.52" height="2.89" fill="#b8c4d8"/>
<rect x="279.91" y="10.79" width="11.52" height="5.37" fill="#f3eff1"/>
<rect x="279.91" y="15.76" width="11.52" height="2.89" fill="#b8c4d8"/>
<rect x="279.91" y="18.25" width="11.52" height="5.37" fill="#8ea1c0"/>
<rect x="279.91" y="23.22" width="11.52" height="2.89" fill="#b8c4d8"/>
<rect x="279.91" y="25.71" width="11.52" height="2.89" fill="#f3eff1"/>
<rect x="279.91" y="28.20" width="11.52" height="7.86" fill="#b8c4d8"/>
<rect x="279.91" y="35.66" width="11.52" height="5.37" fill="#8ea1c0"/>
<rect x="279.91" y="40.63" width="11.52" height="5.37" fill="#b8c4d8"/>
<rect x="279.91" y="45.61" width="11.52" height="5.37" fill="#ecc6cb"/>
<rect x="279.91" y="50.58" width="11.52" height="2.89" fill="#f3eff1"/>
<rect x="279.91" y="53.07" width="11.52" height="5.37" fill="#b8c4d8"/>
<rect x="279.91" y="58.04" width="11.52" height="2.89" fill="#f3eff1"/>
<rect x="279.91" y="60.53" width="11.52" height="10.35" fill="#b8c4d8"/>
<rect x="279.91" y="70.48" width="11.52" height="2.89" fill="#8ea1c0"/>
<rect x="279.91" y="72.97" width="11.52" height="10.35" fill="#d57d86"/>
<rect x="279.91" y="82.91" width="11.52" height="12.84" fill="#ecc6cb"/>
<rect x="279.91" y="95.35" width="11.52" height="5.37" fill="#f3eff1"/>
<rect x="279.91" y="100.32" width="11.52" height="2.89" fill="#ecc6cb"/>
<rect x="279.91" y="102.81" width="11.52" height="12.84" fill="#b8c4d8"/>
<rect x="279.91" y="115.25" width="11.52" height="12.84" fill="#ecc6cb"/>
<rect x="279.91" y="127.68" width="11.52" height="5.37" fill="#d57d86"/>
<rect x="279.91" y="132.66" width="11.52" height="7.86" fill="#e0a2a8"/>
<rect x="279.91" y="140.12" width="11.52" height="2.89" fill="#d57d86"/>
<rect x="279.91" y="142.61" width="11.52" height="2.89" fill="#e0a2a8"/>
<rect x="279.91" y="145.09" width="11.52" height="5.37" fill="#f3eff1"/>
<rect x="279.91" y="150.07" width="11.52" height="7.86" fill="#e0a2a8"/>
<rect x="279.91" y="157.53" width="11.52" height="2.89" fill="#f3eff1"/>
<rect x="279.91" y="160.02" width="11.52" height="2.89" fill="#b8c4d8"/>
<rect x="279.91" y="162.50" width="11.52" height="2.89" fill="#f3eff1"/>
<rect x="279.91" y="164.99" width="11.52" height="2.89" fill="#ecc6cb"/>
<rect x="279.91" y="167.48" width="11.52" height="7.86" fill="#c0424c"/>
<rect x="279.91" y="174.94" width="11.52" height="2.89" fill="#ca6069"/>
<rect x="279.91" y="177.43" width="11.52" height="7.86" fill="#d57d86"/>
<rect x="279.91" y="184.89" width="11.52" height="2.89" fill="#e0a2a8"/>
<rect x="279.91" y="187.37" width="11.52" height="2.89" fill="#d57d86"/>
<rect x="279.91" y="189.86" width="11.52" height="2.89" fill="#ca6069"/>
<rect x="279.91" y="192.35" width="11.52" height="5.37" fill="#d57d86"/>
<rect x="279.91" y="197.32" width="11.52" height="2.89" fill="#c0424c"/>
<rect x="279.91" y="199.81" width="11.52" height="2.89" fill="#ecc6cb"/>
<rect x="279.91" y="202.30" width="11.52" height="5.37" fill="#f3eff1"/>
<rect x="279.91" y="207.27" width="11.52" height="2.89" fill="#ecc6cb"/>
<rect x="279.91" y="209.76" width="11.52" height="2.89" fill="#b8c4d8"/>
<rect x="279.91" y="212.25" width="11.52" height="5.37" fill="#ecc6cb"/>
<rect x="279.91" y="217.22" width="11.52" height="2.89" fill="#d57d86"/>
<rect x="279.91" y="219.71" width="11.52" height="2.89" fill="#ecc6cb"/>
<rect x="279.91" y="222.19" width="11.52" height="12.84" fill="#f3eff1"/>
<rect x="279.91" y="234.63" width="11.52" height="2.89" fill="#b8c4d8"/>
<rect x="279.91" y="237.12" width="11.52" height="2.89" fill="#f3eff1"/>
<rect x="279.91" y="239.60" width="11.52" height="17.81" fill="#f3f3f5"/>
<rect x="279.91" y="257.01" width="11.52" height="2.89" fill="#627caa"/>
<rect x="279.91" y="259.50" width="11.52" height="20.30" fill="#8ea1c0"/>
<rect x="279.91" y="279.40" width="11.52" height="5.37" fill="#b8c4d8"/>
<rect x="279.91" y="284.37" width="11.52" height="7.86" fill="#f3eff1"/>
<rect x="279.91" y="291.83" width="11.52" height="2.89" fill="#b8c4d8"/>
<rect x="279.91" y="294.32" width="11.52" height="10.35" fill="#f3eff1"/>
<rect x="279.91" y="304.27" width="11.52" height="5.37" fill="#b8c4d8"/>
<rect x="279.91" y="309.24" width="11.52" height="2.89" fill="#8ea1c0"/>
<rect x="279.91" y="311.73" width="11.52" height="7.86" fill="#b8c4d8"/>
<rect x="279.91" y="319.19" width="11.52" height="7.86" fill="#8ea1c0"/>
<rect x="279.91" y="326.65" width="11.52" height="20.30" fill="#b8c4d8"/>
<rect x="279.91" y="346.55" width="11.52" height="5.37" fill="#8ea1c0"/>
<rect x="279.91" y="351.53" width="11.52" height="4.97" fill="#b8c4d8"/>
<rect x="291.03" y="8.30" width="11.52" height="5.37" fill="#b8c4d8"/>
<rect x="291.03" y="13.27" width="11.52" height="2.89" fill="#8ea1c0"/>
<rect x="291.03" y="15.76" width="11.52" height="2.89" fill="#627caa"/>
<rect x="291.03" y="18.25" width="11.52" height="5.37" fill="#8ea1c0"/>
<rect x="291.03" y="23.22" width="11.52" height="5.37" fill="#abbad1"/>
<rect x="291.03" y="28.20" width="11.52" height="10.35" fill="#8ea1c0"/>
<rect x="291.03" y="38.15" width="11.52" height="2.89" fill="#9bacc7"/>
<rect x="291.03" y="40.63" width="11.52" height="7.86" fill="#8ea1c0"/>
<rect x="291.03" y="48.09" width="11.52" height="2.89" fill="#9bacc7"/>
<rect x="291.03" y="50.58" width="11.52" height="7.86" fill="#8ea1c0"/>
<rect x="291.03" y="58.04" width="11.52" height="2.89" fill="#9bacc7"/>
<rect x="291.03" y="60.53" width="11.52" height="2.89" fill="#8ea1c0"/>
<rect x="291.03" y="63.02" width="11.52" height="7.86" fill="#9bacc7"/>
<rect x="291.03" y="70.48" width="11.52" height="5.37" fill="#8ea1c0"/>
<rect x="291.03" y="75.45" width="11.52" height="2.89" fill="#abbad1"/>
<rect x="291.03" y="77.94" width="11.52" height="5.37" fill="#8ea1c0"/>
<rect x="291.03" y="82.91" width="11.52" height="15.32" fill="#859abc"/>
<rect x="291.03" y="97.84" width="11.52" height="2.89" fill="#f3eff1"/>
<rect x="291.03" y="100.32" width="11.52" height="32.73" fill="#a3b2cc"/>
<rect x="291.03" y="132.66" width="11.52" height="7.86" fill="#b8c4d8"/>
<rect x="291.03" y="140.12" width="11.52" height="2.89" fill="#8ea1c0"/>
<rect x="291.03" y="142.61" width="11.52" height="2.89" fill="#788eb5"/>
<rect x="291.03" y="145.09" width="11.52" height="2.89" fill="#8ea1c0"/>
<rect x="291.03" y="147.58" width="11.52" height="20.30" fill="#a3b2cc"/>
<rect x="291.03" y="167.48" width="11.52" height="5.37" fill="#f3eff1"/>
<rect x="291.03" y="172.45" width="11.52" height="2.89" fill="#d6dae4"/>
<rect x="291.03" y="174.94" width="11.52" height="5.37" fill="#eed2d6"/>
<rect x="291.03" y="179.91" width="11.52" height="2.89" fill="#f0dade"/>
<rect x="291.03" y="182.40" width="11.52" height="5.37" fill="#b8c4d8"/>
<rect x="291.03" y="187.37" width="11.52" height="5.37" fill="#d6dae4"/>
<rect x="291.03" y="192.35" width="11.52" height="2.89" fill="#a3b2cc"/>
<rect x="291.03" y="194.84" width="11.52" height="5.37" fill="#8ea1c0"/>
<rect x="291.03" y="199.81" width="11.52" height="2.89" fill="#d6dae4"/>
<rect x="291.03" y="202.30" width="11.52" height="20.30" fill="#8ea1c0"/>
<rect x="291.03" y="222.19" width="11.52" height="2.89" fill="#ecc6cb"/>
<rect x="291.03" y="224.68" width="11.52" height="2.89" fill="#f3eff1"/>
<rect x="291.03" y="227.17" width="11.52" height="12.84" fill="#ecc6cb"/>
<rect x="291.03" y="239.60" width="11.52" height="17.81" fill="#f3f3f5"/>
<rect x="291.03" y="257.01" width="11.52" height="2.89" fill="#f3eff1"/>
<rect x="291.03" y="259.50" width="11.52" height="2.89" fill="#c0424c"/>
<rect x="291.03" y="261.99" width="11.52" height="2.89" fill="#d57d86"/>
<rect x="291.03" y="264.48" width="11.52" height="10.35" fill="#b8c4d8"/>
<rect x="291.03" y="274.42" width="11.52" height="5.37" fill="#f3eff1"/>
<rect x="291.03" y="279.40" width="11.52" height="2.89" fill="#8ea1c0"/>
<rect x="291.03" y="281.89" width="11.52" height="5.37" fill="#b8c4d8"/>
<rect x="291.03" y="286.86" width="11.52" height="12.84" fill="#8ea1c0"/>
<rect x="291.03" y="299.30" width="11.52" height="5.37" fill="#b8c4d8"/>
<rect x="291.03" y="304.27" width="11.52" height="2.89" fill="#8ea1c0"/>
<rect x="291.03" y="306.76" width="11.52" height="2.89" fill="#b8c4d8"/>
<rect x="291.03" y="309.24" width="11.52" height="5.37" fill="#8ea1c0"/>
<rect x="291.03" y="314.22" width="11.52" height="12.84" fill="#b8c4d8"/>
<rect x="291.03" y="326.65" width="11.52" height="2.89" fill="#f3eff1"/>
<rect x="291.03" y="329.14" width="11.52" height="2.89" fill="#b8c4d8"/>
<rect x="291.03" y="331.63" width="11.52" height="2.89" fill="#f3eff1"/>
<rect x="291.03" y="334.12" width="11.52" height="5.37" fill="#b8c4d8"/>
<rect x="291.03" y="339.09" width="11.52" height="15.32" fill="#8ea1c0"/>
<rect x="291.03" y="354.01" width="11.52" height="2.49" fill="#b8c4d8"/>
<rect x="302.16" y="8.30" width="11.52" height="7.86" fill="#b8c4d8"/>
<rect x="302.16" y="15.76" width="11.52" height="2.89" fill="#f3eff1"/>
<rect x="302.16" y="18.25" width="11.52" height="10.35" fill="#b8c4d8"/>
<rect x="302.16" y="28.20" width="11.52" height="32.73" fill="#8ea1c0"/>
<rect x="302.16" y="60.53" width="11.52" height="2.89" fill="#b8c4d8"/>
<rect x="302.16" y="63.02" width="11.52" height="2.89" fill="#8ea1c0"/>
<rect x="302.16" y="65.50" width="11.52" height="5.37" fill="#b8c4d8"/>
<rect x="302.16" y="70.48" width="11.52" height="2.89" fill="#8ea1c0"/>
<rect x="302.16" y="72.97" width="11.52" height="5.37" fill="#627caa"/>
<rect x="302.16" y="77.94" width="11.52" height="10.35" fill="#8ea1c0"/>
<rect x="302.16" y="87.89" width="11.52" height="5.37" fill="#9fafca"/>
<rect x="302.16" y="92.86" width="11.52" height="15.32" fill="#8ea1c0"/>
<rect x="302.16" y="107.79" width="11.52" height="7.86" fill="#f3eff1"/>
<rect x="302.16" y="115.25" width="11.52" height="17.81" fill="#a3b2cc"/>
<rect x="302.16" y="132.66" width="11.52" height="20.30" fill="#b8c4d8"/>
<rect x="302.16" y="152.55" width="11.52" height="12.84" fill="#8ea1c0"/>
<rect x="302.16" y="164.99" width="11.52" height="7.86" fill="#b8c4d8"/>
<rect x="302.16" y="172.45" width="11.52" height="2.89" fill="#8ea1c0"/>
<rect x="302.16" y="174.94" width="11.52" height="2.89" fill="#f3eff1"/>
<rect x="302.16" y="177.43" width="11.52" height="2.89" fill="#ecc6cb"/>
<rect x="302.16" y="179.91" width="11.52" height="5.37" fill="#b8c4d8"/>
<rect x="302.16" y="184.89" width="11.52" height="5.37" fill="#8ea1c0"/>
<rect x="302.16" y="189.86" width="11.52" height="2.89" fill="#b8c4d8"/>
<rect x="302.16" y="192.35" width="11.52" height="2.89" fill="#f3eff1"/>
<rect x="302.16" y="194.84" width="11.52" height="5.37" fill="#b8c4d8"/>
<rect x="302.16" y="199.81" width="11.52" height="2.89" fill="#8ea1c0"/>
<rect x="302.16" y="202.30" width="11.52" height="2.89" fill="#b8c4d8"/>
<rect x="302.16" y="204.78" width="11.52" height="5.37" fill="#8ea1c0"/>
<rect x="302.16" y="209.76" width="11.52" height="2.89" fill="#b8c4d8"/>
<rect x="302.16" y="212.25" width="11.52" height="2.89" fill="#f3eff1"/>
<rect x="302.16" y="214.73" width="11.52" height="2.89" fill="#b8c4d8"/>
<rect x="302.16" y="217.22" width="11.52" height="2.89" fill="#f3eff1"/>
<rect x="302.16" y="219.71" width="11.52" height="5.37" fill="#ecc6cb"/>
<rect x="302.16" y="224.68" width="11.52" height="7.86" fill="#d57d86"/>
<rect x="302.16" y="232.14" width="11.52" height="7.86" fill="#ecc6cb"/>
<rect x="302.16" y="239.60" width="11.52" height="17.81" fill="#f3f3f5"/>
<rect x="302.16" y="257.01" width="11.52" height="2.89" fill="#ecc6cb"/>
<rect x="302.16" y="259.50" width="11.52" height="2.89" fill="#b8c4d8"/>
<rect x="302.16" y="261.99" width="11.52" height="2.89" fill="#8ea1c0"/>
<rect x="302.16" y="264.48" width="11.52" height="2.89" fill="#f3eff1"/>
<rect x="302.16" y="266.96" width="11.52" height="5.37" fill="#d57d86"/>
<rect x="302.16" y="271.94" width="11.52" height="2.89" fill="#ecc6cb"/>
<rect x="302.16" y="274.42" width="11.52" height="7.86" fill="#b8c4d8"/>
<rect x="302.16" y="281.89" width="11.52" height="2.89" fill="#d57d86"/>
<rect x="302.16" y="284.37" width="11.52" height="2.89" fill="#b8c4d8"/>
<rect x="302.16" y="286.86" width="11.52" height="2.89" fill="#f3eff1"/>
<rect x="302.16" y="289.35" width="11.52" height="2.89" fill="#b8c4d8"/>
<rect x="302.16" y="291.83" width="11.52" height="5.37" fill="#f3eff1"/>
<rect x="302.16" y="296.81" width="11.52" height="2.89" fill="#ecc6cb"/>
<rect x="302.16" y="299.30" width="11.52" height="22.78" fill="#b8c4d8"/>
<rect x="302.16" y="321.68" width="11.52" height="5.37" fill="#f3eff1"/>
<rect x="302.16" y="326.65" width="11.52" height="5.37" fill="#b8c4d8"/>
<rect x="302.16" y="331.63" width="11.52" height="5.37" fill="#8ea1c0"/>
<rect x="302.16" y="336.60" width="11.52" height="12.84" fill="#b8c4d8"/>
<rect x="302.16" y="349.04" width="11.52" height="5.37" fill="#f3eff1"/>
<rect x="302.16" y="354.01" width="11.52" height="2.49" fill="#b8c4d8"/>
<rect x="313.28" y="8.30" width="11.12" height="17.81" fill="#b8c4d8"/>
<rect x="313.28" y="25.71" width="11.12" height="5.37" fill="#f3eff1"/>
<rect x="313.28" y="30.68" width="11.12" height="10.35" fill="#8ea1c0"/>
<rect x="313.28" y="40.63" width="11.12" height="2.89" fill="#b8c4d8"/>
<rect x="313.28" y="43.12" width="11.12" height="5.37" fill="#8ea1c0"/>
<rect x="313.28" y="48.09" width="11.12" height="5.37" fill="#b8c4d8"/>
<rect x="313.28" y="53.07" width="11.12" height="2.89" fill="#f3eff1"/>
<rect x="313.28" y="55.56" width="11.12" height="5.37" fill="#b8c4d8"/>
<rect x="313.28" y="60.53" width="11.12" height="7.86" fill="#8ea1c0"/>
<rect x="313.28" y="67.99" width="11.12" height="5.37" fill="#b8c4d8"/>
<rect x="313.28" y="72.97" width="11.12" height="2.89" fill="#ecc6cb"/>
<rect x="313.28" y="75.45" width="11.12" height="12.84" fill="#f3eff1"/>
<rect x="313.28" y="87.89" width="11.12" height="7.86" fill="#b8c4d8"/>
<rect x="313.28" y="95.35" width="11.12" height="2.89" fill="#f3eff1"/>
<rect x="313.28" y="97.84" width="11.12" height="25.27" fill="#8ea1c0"/>
<rect x="313.28" y="122.71" width="11.12" height="17.81" fill="#b8c4d8"/>
<rect x="313.28" y="140.12" width="11.12" height="17.81" fill="#8ea1c0"/>
<rect x="313.28" y="157.53" width="11.12" height="5.37" fill="#627caa"/>
<rect x="313.28" y="162.50" width="11.12" height="2.89" fill="#8ea1c0"/>
<rect x="313.28" y="164.99" width="11.12" height="5.37" fill="#f3eff1"/>
<rect x="313.28" y="169.96" width="11.12" height="5.37" fill="#b8c4d8"/>
<rect x="313.28" y="174.94" width="11.12" height="7.86" fill="#8ea1c0"/>
<rect x="313.28" y="182.40" width="11.12" height="5.37" fill="#b8c4d8"/>
<rect x="313.28" y="187.37" width="11.12" height="2.89" fill="#c0424c"/>
<rect x="313.28" y="189.86" width="11.12" height="2.89" fill="#d57d86"/>
<rect x="313.28" y="192.35" width="11.12" height="2.89" fill="#b8c4d8"/>
<rect x="313.28" y="194.84" width="11.12" height="2.89" fill="#ca6069"/>
<rect x="313.28" y="197.32" width="11.12" height="2.89" fill="#ecc6cb"/>
<rect x="313.28" y="199.81" width="11.12" height="5.37" fill="#f3eff1"/>
<rect x="313.28" y="204.78" width="11.12" height="2.89" fill="#ecc6cb"/>
<rect x="313.28" y="207.27" width="11.12" height="2.89" fill="#f3eff1"/>
<rect x="313.28" y="209.76" width="11.12" height="2.89" fill="#ecc6cb"/>
<rect x="313.28" y="212.25" width="11.12" height="7.86" fill="#a3b2cc"/>
<rect x="313.28" y="219.71" width="11.12" height="2.89" fill="#f3eff1"/>
<rect x="313.28" y="222.19" width="11.12" height="2.89" fill="#f0dade"/>
<rect x="313.28" y="224.68" width="11.12" height="7.86" fill="#e0a2a8"/>
<rect x="313.28" y="232.14" width="11.12" height="5.37" fill="#c0424c"/>
<rect x="313.28" y="237.12" width="11.12" height="2.89" fill="#c44e58"/>
<rect x="313.28" y="239.60" width="11.12" height="17.81" fill="#f3f3f5"/>
<rect x="313.28" y="257.01" width="11.12" height="2.89" fill="#d57d86"/>
<rect x="313.28" y="259.50" width="11.12" height="2.89" fill="#f3eff1"/>
<rect x="313.28" y="261.99" width="11.12" height="2.89" fill="#a3b2cc"/>
<rect x="313.28" y="264.48" width="11.12" height="2.89" fill="#c0424c"/>
<rect x="313.28" y="266.96" width="11.12" height="2.89" fill="#a3b2cc"/>
<rect x="313.28" y="269.45" width="11.12" height="5.37" fill="#b8c4d8"/>
<rect x="313.28" y="274.42" width="11.12" height="2.89" fill="#f3eff1"/>
<rect x="313.28" y="276.91" width="11.12" height="10.35" fill="#b8c4d8"/>
<rect x="313.28" y="286.86" width="11.12" height="2.89" fill="#8196b9"/>
<rect x="313.28" y="289.35" width="11.12" height="2.89" fill="#748bb3"/>
<rect x="313.28" y="291.83" width="11.12" height="5.37" fill="#8196b9"/>
<rect x="313.28" y="296.81" width="11.12" height="2.89" fill="#748bb3"/>
<rect x="313.28" y="299.30" width="11.12" height="2.89" fill="#8196b9"/>
<rect x="313.28" y="301.78" width="11.12" height="2.89" fill="#8ea1c0"/>
<rect x="313.28" y="304.27" width="11.12" height="10.35" fill="#8196b9"/>
<rect x="313.28" y="314.22" width="11.12" height="2.89" fill="#748bb3"/>
<rect x="313.28" y="316.71" width="11.12" height="2.89" fill="#8196b9"/>
<rect x="313.28" y="319.19" width="11.12" height="5.37" fill="#8ea1c0"/>
<rect x="313.28" y="324.17" width="11.12" height="2.89" fill="#b8c4d8"/>
<rect x="313.28" y="326.65" width="11.12" height="2.89" fill="#627caa"/>
<rect x="313.28" y="329.14" width="11.12" height="10.35" fill="#8ea1c0"/>
<rect x="313.28" y="339.09" width="11.12" height="2.89" fill="#b8c4d8"/>
<rect x="313.28" y="341.58" width="11.12" height="2.89" fill="#8ea1c0"/>
<rect x="313.28" y="344.06" width="11.12" height="12.44" fill="#b8c4d8"/>
</g>
<line x1="217.00" y1="9.54" x2="224.30" y2="9.54" stroke="#111" stroke-width="0.65"/>
<line x1="216.81" y1="12.03" x2="224.30" y2="12.03" stroke="#111" stroke-width="0.65"/>
<line x1="216.73" y1="14.52" x2="224.30" y2="14.52" stroke="#111" stroke-width="0.65"/>
<line x1="216.49" y1="17.01" x2="224.30" y2="17.01" stroke="#111" stroke-width="0.65"/>
<line x1="216.82" y1="19.49" x2="224.30" y2="19.49" stroke="#111" stroke-width="0.65"/>
<line x1="216.52" y1="21.98" x2="224.30" y2="21.98" stroke="#111" stroke-width="0.65"/>
<line x1="217.95" y1="24.47" x2="224.30" y2="24.47" stroke="#111" stroke-width="0.65"/>
<line x1="217.26" y1="26.95" x2="224.30" y2="26.95" stroke="#111" stroke-width="0.65"/>
<line x1="216.49" y1="29.44" x2="224.30" y2="29.44" stroke="#111" stroke-width="0.65"/>
<line x1="216.96" y1="31.93" x2="224.30" y2="31.93" stroke="#111" stroke-width="0.65"/>
<line x1="216.56" y1="34.41" x2="224.30" y2="34.41" stroke="#111" stroke-width="0.65"/>
<line x1="217.82" y1="36.90" x2="224.30" y2="36.90" stroke="#111" stroke-width="0.65"/>
<line x1="217.25" y1="39.39" x2="224.30" y2="39.39" stroke="#111" stroke-width="0.65"/>
<line x1="217.61" y1="41.88" x2="224.30" y2="41.88" stroke="#111" stroke-width="0.65"/>
<line x1="217.13" y1="44.36" x2="224.30" y2="44.36" stroke="#111" stroke-width="0.65"/>
<line x1="217.08" y1="46.85" x2="224.30" y2="46.85" stroke="#111" stroke-width="0.65"/>
<line x1="217.98" y1="49.34" x2="224.30" y2="49.34" stroke="#111" stroke-width="0.65"/>
<line x1="217.65" y1="51.83" x2="224.30" y2="51.83" stroke="#111" stroke-width="0.65"/>
<line x1="217.55" y1="54.31" x2="224.30" y2="54.31" stroke="#111" stroke-width="0.65"/>
<line x1="216.53" y1="56.80" x2="224.30" y2="56.80" stroke="#111" stroke-width="0.65"/>
<line x1="216.77" y1="59.29" x2="224.30" y2="59.29" stroke="#111" stroke-width="0.65"/>
<line x1="217.74" y1="61.77" x2="224.30" y2="61.77" stroke="#111" stroke-width="0.65"/>
<line x1="216.72" y1="64.26" x2="224.30" y2="64.26" stroke="#111" stroke-width="0.65"/>
<line x1="217.78" y1="66.75" x2="224.30" y2="66.75" stroke="#111" stroke-width="0.65"/>
<line x1="217.01" y1="69.23" x2="224.30" y2="69.23" stroke="#111" stroke-width="0.65"/>
<line x1="217.80" y1="71.72" x2="224.30" y2="71.72" stroke="#111" stroke-width="0.65"/>
<line x1="218.00" y1="74.21" x2="224.30" y2="74.21" stroke="#111" stroke-width="0.65"/>
<line x1="216.61" y1="76.70" x2="224.30" y2="76.70" stroke="#111" stroke-width="0.65"/>
<line x1="217.66" y1="79.18" x2="224.30" y2="79.18" stroke="#111" stroke-width="0.65"/>
<line x1="217.66" y1="81.67" x2="224.30" y2="81.67" stroke="#111" stroke-width="0.65"/>
<line x1="216.43" y1="84.16" x2="224.30" y2="84.16" stroke="#111" stroke-width="0.65"/>
<line x1="216.60" y1="86.64" x2="224.30" y2="86.64" stroke="#111" stroke-width="0.65"/>
<line x1="217.54" y1="89.13" x2="224.30" y2="89.13" stroke="#111" stroke-width="0.65"/>
<line x1="216.46" y1="91.62" x2="224.30" y2="91.62" stroke="#111" stroke-width="0.65"/>
<line x1="217.14" y1="94.11" x2="224.30" y2="94.11" stroke="#111" stroke-width="0.65"/>
<line x1="216.92" y1="96.59" x2="224.30" y2="96.59" stroke="#111" stroke-width="0.65"/>
<line x1="217.67" y1="99.08" x2="224.30" y2="99.08" stroke="#111" stroke-width="0.65"/>
<line x1="216.49" y1="101.57" x2="224.30" y2="101.57" stroke="#111" stroke-width="0.65"/>
<line x1="216.89" y1="104.05" x2="224.30" y2="104.05" stroke="#111" stroke-width="0.65"/>
<line x1="216.45" y1="106.54" x2="224.30" y2="106.54" stroke="#111" stroke-width="0.65"/>
<line x1="216.57" y1="109.03" x2="224.30" y2="109.03" stroke="#111" stroke-width="0.65"/>
<line x1="217.52" y1="111.52" x2="224.30" y2="111.52" stroke="#111" stroke-width="0.65"/>
<line x1="217.42" y1="114.00" x2="224.30" y2="114.00" stroke="#111" stroke-width="0.65"/>
<line x1="217.73" y1="116.49" x2="224.30" y2="116.49" stroke="#111" stroke-width="0.65"/>
<line x1="217.77" y1="118.98" x2="224.30" y2="118.98" stroke="#111" stroke-width="0.65"/>
<line x1="217.90" y1="121.46" x2="224.30" y2="121.46" stroke="#111" stroke-width="0.65"/>
<line x1="217.52" y1="123.95" x2="224.30" y2="123.95" stroke="#111" stroke-width="0.65"/>
<line x1="217.04" y1="126.44" x2="224.30" y2="126.44" stroke="#111" stroke-width="0.65"/>
<line x1="217.99" y1="128.93" x2="224.30" y2="128.93" stroke="#111" stroke-width="0.65"/>
<line x1="216.92" y1="131.41" x2="224.30" y2="131.41" stroke="#111" stroke-width="0.65"/>
<line x1="217.46" y1="133.90" x2="224.30" y2="133.90" stroke="#111" stroke-width="0.65"/>
<line x1="217.50" y1="136.39" x2="224.30" y2="136.39" stroke="#111" stroke-width="0.65"/>
<line x1="216.69" y1="138.88" x2="224.30" y2="138.88" stroke="#111" stroke-width="0.65"/>
<line x1="217.23" y1="141.36" x2="224.30" y2="141.36" stroke="#111" stroke-width="0.65"/>
<line x1="217.49" y1="143.85" x2="224.30" y2="143.85" stroke="#111" stroke-width="0.65"/>
<line x1="217.23" y1="146.34" x2="224.30" y2="146.34" stroke="#111" stroke-width="0.65"/>
<line x1="216.87" y1="148.82" x2="224.30" y2="148.82" stroke="#111" stroke-width="0.65"/>
<line x1="217.91" y1="151.31" x2="224.30" y2="151.31" stroke="#111" stroke-width="0.65"/>
<line x1="216.44" y1="153.80" x2="224.30" y2="153.80" stroke="#111" stroke-width="0.65"/>
<line x1="217.96" y1="156.28" x2="224.30" y2="156.28" stroke="#111" stroke-width="0.65"/>
<line x1="216.80" y1="158.77" x2="224.30" y2="158.77" stroke="#111" stroke-width="0.65"/>
<line x1="216.65" y1="161.26" x2="224.30" y2="161.26" stroke="#111" stroke-width="0.65"/>
<line x1="217.97" y1="163.75" x2="224.30" y2="163.75" stroke="#111" stroke-width="0.65"/>
<line x1="216.74" y1="166.23" x2="224.30" y2="166.23" stroke="#111" stroke-width="0.65"/>
<line x1="217.41" y1="168.72" x2="224.30" y2="168.72" stroke="#111" stroke-width="0.65"/>
<line x1="217.07" y1="171.21" x2="224.30" y2="171.21" stroke="#111" stroke-width="0.65"/>
<line x1="217.99" y1="173.70" x2="224.30" y2="173.70" stroke="#111" stroke-width="0.65"/>
<line x1="217.93" y1="176.18" x2="224.30" y2="176.18" stroke="#111" stroke-width="0.65"/>
<line x1="217.71" y1="178.67" x2="224.30" y2="178.67" stroke="#111" stroke-width="0.65"/>
<line x1="216.47" y1="181.16" x2="224.30" y2="181.16" stroke="#111" stroke-width="0.65"/>
<line x1="217.69" y1="183.64" x2="224.30" y2="183.64" stroke="#111" stroke-width="0.65"/>
<line x1="216.79" y1="186.13" x2="224.30" y2="186.13" stroke="#111" stroke-width="0.65"/>
<line x1="216.51" y1="188.62" x2="224.30" y2="188.62" stroke="#111" stroke-width="0.65"/>
<line x1="216.49" y1="191.11" x2="224.30" y2="191.11" stroke="#111" stroke-width="0.65"/>
<line x1="217.45" y1="193.59" x2="224.30" y2="193.59" stroke="#111" stroke-width="0.65"/>
<line x1="217.43" y1="196.08" x2="224.30" y2="196.08" stroke="#111" stroke-width="0.65"/>
<line x1="217.16" y1="198.57" x2="224.30" y2="198.57" stroke="#111" stroke-width="0.65"/>
<line x1="216.76" y1="201.05" x2="224.30" y2="201.05" stroke="#111" stroke-width="0.65"/>
<line x1="217.83" y1="203.54" x2="224.30" y2="203.54" stroke="#111" stroke-width="0.65"/>
<line x1="216.80" y1="206.03" x2="224.30" y2="206.03" stroke="#111" stroke-width="0.65"/>
<line x1="216.72" y1="208.52" x2="224.30" y2="208.52" stroke="#111" stroke-width="0.65"/>
<line x1="216.62" y1="211.00" x2="224.30" y2="211.00" stroke="#111" stroke-width="0.65"/>
<line x1="217.94" y1="213.49" x2="224.30" y2="213.49" stroke="#111" stroke-width="0.65"/>
<line x1="216.49" y1="215.98" x2="224.30" y2="215.98" stroke="#111" stroke-width="0.65"/>
<line x1="217.85" y1="218.46" x2="224.30" y2="218.46" stroke="#111" stroke-width="0.65"/>
<line x1="217.45" y1="220.95" x2="224.30" y2="220.95" stroke="#111" stroke-width="0.65"/>
<line x1="217.02" y1="223.44" x2="224.30" y2="223.44" stroke="#111" stroke-width="0.65"/>
<line x1="216.53" y1="225.93" x2="224.30" y2="225.93" stroke="#111" stroke-width="0.65"/>
<line x1="217.46" y1="228.41" x2="224.30" y2="228.41" stroke="#111" stroke-width="0.65"/>
<line x1="216.52" y1="230.90" x2="224.30" y2="230.90" stroke="#111" stroke-width="0.65"/>
<line x1="217.13" y1="233.39" x2="224.30" y2="233.39" stroke="#111" stroke-width="0.65"/>
<line x1="217.50" y1="235.87" x2="224.30" y2="235.87" stroke="#111" stroke-width="0.65"/>
<line x1="217.49" y1="238.36" x2="224.30" y2="238.36" stroke="#111" stroke-width="0.65"/>
<line x1="217.72" y1="240.85" x2="224.30" y2="240.85" stroke="#111" stroke-width="0.65"/>
<line x1="217.87" y1="243.34" x2="224.30" y2="243.34" stroke="#111" stroke-width="0.65"/>
<line x1="217.76" y1="245.82" x2="224.30" y2="245.82" stroke="#111" stroke-width="0.65"/>
<line x1="216.90" y1="248.31" x2="224.30" y2="248.31" stroke="#111" stroke-width="0.65"/>
<line x1="216.41" y1="250.80" x2="224.30" y2="250.80" stroke="#111" stroke-width="0.65"/>
<line x1="217.74" y1="253.28" x2="224.30" y2="253.28" stroke="#111" stroke-width="0.65"/>
<line x1="217.92" y1="255.77" x2="224.30" y2="255.77" stroke="#111" stroke-width="0.65"/>
<line x1="216.42" y1="258.26" x2="224.30" y2="258.26" stroke="#111" stroke-width="0.65"/>
<line x1="217.15" y1="260.75" x2="224.30" y2="260.75" stroke="#111" stroke-width="0.65"/>
<line x1="217.35" y1="263.23" x2="224.30" y2="263.23" stroke="#111" stroke-width="0.65"/>
<line x1="217.62" y1="265.72" x2="224.30" y2="265.72" stroke="#111" stroke-width="0.65"/>
<line x1="217.05" y1="268.21" x2="224.30" y2="268.21" stroke="#111" stroke-width="0.65"/>
<line x1="216.68" y1="270.69" x2="224.30" y2="270.69" stroke="#111" stroke-width="0.65"/>
<line x1="217.27" y1="273.18" x2="224.30" y2="273.18" stroke="#111" stroke-width="0.65"/>
<line x1="217.33" y1="275.67" x2="224.30" y2="275.67" stroke="#111" stroke-width="0.65"/>
<line x1="217.91" y1="278.16" x2="224.30" y2="278.16" stroke="#111" stroke-width="0.65"/>
<line x1="216.53" y1="280.64" x2="224.30" y2="280.64" stroke="#111" stroke-width="0.65"/>
<line x1="217.95" y1="283.13" x2="224.30" y2="283.13" stroke="#111" stroke-width="0.65"/>
<line x1="217.21" y1="285.62" x2="224.30" y2="285.62" stroke="#111" stroke-width="0.65"/>
<line x1="216.66" y1="288.10" x2="224.30" y2="288.10" stroke="#111" stroke-width="0.65"/>
<line x1="217.79" y1="290.59" x2="224.30" y2="290.59" stroke="#111" stroke-width="0.65"/>
<line x1="216.83" y1="293.08" x2="224.30" y2="293.08" stroke="#111" stroke-width="0.65"/>
<line x1="216.48" y1="295.56" x2="224.30" y2="295.56" stroke="#111" stroke-width="0.65"/>
<line x1="216.99" y1="298.05" x2="224.30" y2="298.05" stroke="#111" stroke-width="0.65"/>
<line x1="216.74" y1="300.54" x2="224.30" y2="300.54" stroke="#111" stroke-width="0.65"/>
<line x1="217.83" y1="303.03" x2="224.30" y2="303.03" stroke="#111" stroke-width="0.65"/>
<line x1="217.30" y1="305.51" x2="224.30" y2="305.51" stroke="#111" stroke-width="0.65"/>
<line x1="217.76" y1="308.00" x2="224.30" y2="308.00" stroke="#111" stroke-width="0.65"/>
<line x1="216.65" y1="310.49" x2="224.30" y2="310.49" stroke="#111" stroke-width="0.65"/>
<line x1="217.53" y1="312.98" x2="224.30" y2="312.98" stroke="#111" stroke-width="0.65"/>
<line x1="217.27" y1="315.46" x2="224.30" y2="315.46" stroke="#111" stroke-width="0.65"/>
<line x1="216.40" y1="317.95" x2="224.30" y2="317.95" stroke="#111" stroke-width="0.65"/>
<line x1="216.64" y1="320.44" x2="224.30" y2="320.44" stroke="#111" stroke-width="0.65"/>
<line x1="216.44" y1="322.92" x2="224.30" y2="322.92" stroke="#111" stroke-width="0.65"/>
<line x1="217.27" y1="325.41" x2="224.30" y2="325.41" stroke="#111" stroke-width="0.65"/>
<line x1="217.22" y1="327.90" x2="224.30" y2="327.90" stroke="#111" stroke-width="0.65"/>
<line x1="216.83" y1="330.38" x2="224.30" y2="330.38" stroke="#111" stroke-width="0.65"/>
<line x1="217.23" y1="332.87" x2="224.30" y2="332.87" stroke="#111" stroke-width="0.65"/>
<line x1="217.53" y1="335.36" x2="224.30" y2="335.36" stroke="#111" stroke-width="0.65"/>
<line x1="217.35" y1="337.85" x2="224.30" y2="337.85" stroke="#111" stroke-width="0.65"/>
<line x1="217.77" y1="340.33" x2="224.30" y2="340.33" stroke="#111" stroke-width="0.65"/>
<line x1="217.40" y1="342.82" x2="224.30" y2="342.82" stroke="#111" stroke-width="0.65"/>
<line x1="216.42" y1="345.31" x2="224.30" y2="345.31" stroke="#111" stroke-width="0.65"/>
<line x1="216.46" y1="347.80" x2="224.30" y2="347.80" stroke="#111" stroke-width="0.65"/>
<line x1="217.00" y1="350.28" x2="224.30" y2="350.28" stroke="#111" stroke-width="0.65"/>
<line x1="217.20" y1="352.77" x2="224.30" y2="352.77" stroke="#111" stroke-width="0.65"/>
<line x1="217.46" y1="355.26" x2="224.30" y2="355.26" stroke="#111" stroke-width="0.65"/>
<line x1="217.40" y1="9.50" x2="217.40" y2="355.30" stroke="#1e1e1e" stroke-width="0.9"/>
<line x1="216.20" y1="12.30" x2="216.20" y2="352.50" stroke="#333" stroke-width="0.6"/>
<line x1="215.20" y1="38.30" x2="215.20" y2="326.50" stroke="#666" stroke-width="0.5"/>
<text x="327.00" y="10.54" font-size="2.85" fill="#7e6c64" textLength="13.8" lengthAdjust="spacingAndGlyphs" stroke="#7e6c64" stroke-width="0.06">PfbZIP1</text>
<text x="327.00" y="13.03" font-size="2.85" fill="#7e6c64" textLength="13.8" lengthAdjust="spacingAndGlyphs" stroke="#7e6c64" stroke-width="0.06">PfbZIP38</text>
<text x="327.00" y="15.52" font-size="2.85" fill="#7e6c64" textLength="13.8" lengthAdjust="spacingAndGlyphs" stroke="#7e6c64" stroke-width="0.06">PfbZIP75</text>
<text x="327.00" y="18.01" font-size="2.85" fill="#7e6c64" textLength="13.8" lengthAdjust="spacingAndGlyphs" stroke="#7e6c64" stroke-width="0.06">PfbZIP112</text>
<text x="327.00" y="20.49" font-size="2.85" fill="#7e6c64" textLength="13.8" lengthAdjust="spacingAndGlyphs" stroke="#7e6c64" stroke-width="0.06">PfbZIP9</text>
<text x="327.00" y="22.98" font-size="2.85" fill="#7e6c64" textLength="13.8" lengthAdjust="spacingAndGlyphs" stroke="#7e6c64" stroke-width="0.06">PfbZIP46</text>
<text x="327.00" y="25.47" font-size="2.85" fill="#7e6c64" textLength="13.8" lengthAdjust="spacingAndGlyphs" stroke="#7e6c64" stroke-width="0.06">PfbZIP83</text>
<text x="327.00" y="27.95" font-size="2.85" fill="#7e6c64" textLength="13.8" lengthAdjust="spacingAndGlyphs" stroke="#7e6c64" stroke-width="0.06">PfbZIP120</text>
<text x="327.00" y="30.44" font-size="2.85" fill="#7e6c64" textLength="13.8" lengthAdjust="spacingAndGlyphs" stroke="#7e6c64" stroke-width="0.06">PfbZIP17</text>
<text x="327.00" y="32.93" font-size="2.85" fill="#7e6c64" textLength="13.8" lengthAdjust="spacingAndGlyphs" stroke="#7e6c64" stroke-width="0.06">PfbZIP54</text>
<text x="327.00" y="35.41" font-size="2.85" fill="#7e6c64" textLength="13.8" lengthAdjust="spacingAndGlyphs" stroke="#7e6c64" stroke-width="0.06">PfbZIP91</text>
<text x="327.00" y="37.90" font-size="2.85" fill="#7e6c64" textLength="13.8" lengthAdjust="spacingAndGlyphs" stroke="#7e6c64" stroke-width="0.06">PfbZIP128</text>
<text x="327.00" y="40.39" font-size="2.85" fill="#7e6c64" textLength="13.8" lengthAdjust="spacingAndGlyphs" stroke="#7e6c64" stroke-width="0.06">PfbZIP25</text>
<text x="327.00" y="42.88" font-size="2.85" fill="#7e6c64" textLength="13.8" lengthAdjust="spacingAndGlyphs" stroke="#7e6c64" stroke-width="0.06">PfbZIP62</text>
<text x="327.00" y="45.36" font-size="2.85" fill="#7e6c64" textLength="13.8" lengthAdjust="spacingAndGlyphs" stroke="#7e6c64" stroke-width="0.06">PfbZIP99</text>
<text x="327.00" y="47.85" font-size="2.85" fill="#7e6c64" textLength="13.8" lengthAdjust="spacingAndGlyphs" stroke="#7e6c64" stroke-width="0.06">PfbZIP136</text>
<text x="327.00" y="50.34" font-size="2.85" fill="#7e6c64" textLength="13.8" lengthAdjust="spacingAndGlyphs" stroke="#7e6c64" stroke-width="0.06">PfbZIP33</text>
<text x="327.00" y="52.83" font-size="2.85" fill="#7e6c64" textLength="13.8" lengthAdjust="spacingAndGlyphs" stroke="#7e6c64" stroke-width="0.06">PfbZIP70</text>
<text x="327.00" y="55.31" font-size="2.85" fill="#7e6c64" textLength="13.8" lengthAdjust="spacingAndGlyphs" stroke="#7e6c64" stroke-width="0.06">PfbZIP107</text>
<text x="327.00" y="57.80" font-size="2.85" fill="#7e6c64" textLength="13.8" lengthAdjust="spacingAndGlyphs" stroke="#7e6c64" stroke-width="0.06">PfbZIP4</text>
<text x="327.00" y="60.29" font-size="2.85" fill="#7e6c64" textLength="13.8" lengthAdjust="spacingAndGlyphs" stroke="#7e6c64" stroke-width="0.06">PfbZIP41</text>
<text x="327.00" y="62.77" font-size="2.85" fill="#7e6c64" textLength="13.8" lengthAdjust="spacingAndGlyphs" stroke="#7e6c64" stroke-width="0.06">PfbZIP78</text>
<text x="327.00" y="65.26" font-size="2.85" fill="#7e6c64" textLength="13.8" lengthAdjust="spacingAndGlyphs" stroke="#7e6c64" stroke-width="0.06">PfbZIP115</text>
<text x="327.00" y="67.75" font-size="2.85" fill="#7e6c64" textLength="13.8" lengthAdjust="spacingAndGlyphs" stroke="#7e6c64" stroke-width="0.06">PfbZIP12</text>
<text x="327.00" y="70.23" font-size="2.85" fill="#7e6c64" textLength="13.8" lengthAdjust="spacingAndGlyphs" stroke="#7e6c64" stroke-width="0.06">PfbZIP49</text>
<text x="327.00" y="72.72" font-size="2.85" fill="#7e6c64" textLength="13.8" lengthAdjust="spacingAndGlyphs" stroke="#7e6c64" stroke-width="0.06">PfbZIP86</text>
<text x="327.00" y="75.21" font-size="2.85" fill="#7e6c64" textLength="13.8" lengthAdjust="spacingAndGlyphs" stroke="#7e6c64" stroke-width="0.06">PfbZIP123</text>
<text x="327.00" y="77.70" font-size="2.85" fill="#7e6c64" textLength="13.8" lengthAdjust="spacingAndGlyphs" stroke="#7e6c64" stroke-width="0.06">PfbZIP20</text>
<text x="327.00" y="80.18" font-size="2.85" fill="#7e6c64" textLength="13.8" lengthAdjust="spacingAndGlyphs" stroke="#7e6c64" stroke-width="0.06">PfbZIP57</text>
<text x="327.00" y="82.67" font-size="2.85" fill="#7e6c64" textLength="13.8" lengthAdjust="spacingAndGlyphs" stroke="#7e6c64" stroke-width="0.06">PfbZIP94</text>
<text x="327.00" y="85.16" font-size="2.85" fill="#7e6c64" textLength="13.8" lengthAdjust="spacingAndGlyphs" stroke="#7e6c64" stroke-width="0.06">PfbZIP131</text>
<text x="327.00" y="87.64" font-size="2.85" fill="#7e6c64" textLength="13.8" lengthAdjust="spacingAndGlyphs" stroke="#7e6c64" stroke-width="0.06">PfbZIP28</text>
<text x="327.00" y="90.13" font-size="2.85" fill="#7e6c64" textLength="13.8" lengthAdjust="spacingAndGlyphs" stroke="#7e6c64" stroke-width="0.06">PfbZIP65</text>
<text x="327.00" y="92.62" font-size="2.85" fill="#7e6c64" textLength="13.8" lengthAdjust="spacingAndGlyphs" stroke="#7e6c64" stroke-width="0.06">PfbZIP102</text>
<text x="327.00" y="95.11" font-size="2.85" fill="#7e6c64" textLength="13.8" lengthAdjust="spacingAndGlyphs" stroke="#7e6c64" stroke-width="0.06">PfbZIP139</text>
<text x="327.00" y="97.59" font-size="2.85" fill="#7e6c64" textLength="13.8" lengthAdjust="spacingAndGlyphs" stroke="#7e6c64" stroke-width="0.06">PfbZIP36</text>
<text x="327.00" y="100.08" font-size="2.85" fill="#7e6c64" textLength="13.8" lengthAdjust="spacingAndGlyphs" stroke="#7e6c64" stroke-width="0.06">PfbZIP73</text>
<text x="327.00" y="102.57" font-size="2.85" fill="#7e6c64" textLength="13.8" lengthAdjust="spacingAndGlyphs" stroke="#7e6c64" stroke-width="0.06">PfbZIP110</text>
<text x="327.00" y="105.05" font-size="2.85" fill="#7e6c64" textLength="13.8" lengthAdjust="spacingAndGlyphs" stroke="#7e6c64" stroke-width="0.06">PfbZIP7</text>
<text x="327.00" y="107.54" font-size="2.85" fill="#7e6c64" textLength="13.8" lengthAdjust="spacingAndGlyphs" stroke="#7e6c64" stroke-width="0.06">PfbZIP44</text>
<text x="327.00" y="110.03" font-size="2.85" fill="#7e6c64" textLength="13.8" lengthAdjust="spacingAndGlyphs" stroke="#7e6c64" stroke-width="0.06">PfbZIP81</text>
<text x="327.00" y="112.52" font-size="2.85" fill="#7e6c64" textLength="13.8" lengthAdjust="spacingAndGlyphs" stroke="#7e6c64" stroke-width="0.06">PfbZIP118</text>
<text x="327.00" y="115.00" font-size="2.85" fill="#7e6c64" textLength="13.8" lengthAdjust="spacingAndGlyphs" stroke="#7e6c64" stroke-width="0.06">PfbZIP15</text>
<text x="327.00" y="117.49" font-size="2.85" fill="#7e6c64" textLength="13.8" lengthAdjust="spacingAndGlyphs" stroke="#7e6c64" stroke-width="0.06">PfbZIP52</text>
<text x="327.00" y="119.98" font-size="2.85" fill="#7e6c64" textLength="13.8" lengthAdjust="spacingAndGlyphs" stroke="#7e6c64" stroke-width="0.06">PfbZIP89</text>
<text x="327.00" y="122.46" font-size="2.85" fill="#7e6c64" textLength="13.8" lengthAdjust="spacingAndGlyphs" stroke="#7e6c64" stroke-width="0.06">PfbZIP126</text>
<text x="327.00" y="124.95" font-size="2.85" fill="#7e6c64" textLength="13.8" lengthAdjust="spacingAndGlyphs" stroke="#7e6c64" stroke-width="0.06">PfbZIP23</text>
<text x="327.00" y="127.44" font-size="2.85" fill="#7e6c64" textLength="13.8" lengthAdjust="spacingAndGlyphs" stroke="#7e6c64" stroke-width="0.06">PfbZIP60</text>
<text x="327.00" y="129.93" font-size="2.85" fill="#7e6c64" textLength="13.8" lengthAdjust="spacingAndGlyphs" stroke="#7e6c64" stroke-width="0.06">PfbZIP97</text>
<text x="327.00" y="132.41" font-size="2.85" fill="#7e6c64" textLength="13.8" lengthAdjust="spacingAndGlyphs" stroke="#7e6c64" stroke-width="0.06">PfbZIP134</text>
<text x="327.00" y="134.90" font-size="2.85" fill="#7e6c64" textLength="13.8" lengthAdjust="spacingAndGlyphs" stroke="#7e6c64" stroke-width="0.06">PfbZIP31</text>
<text x="327.00" y="137.39" font-size="2.85" fill="#7e6c64" textLength="13.8" lengthAdjust="spacingAndGlyphs" stroke="#7e6c64" stroke-width="0.06">PfbZIP68</text>
<text x="327.00" y="139.88" font-size="2.85" fill="#7e6c64" textLength="13.8" lengthAdjust="spacingAndGlyphs" stroke="#7e6c64" stroke-width="0.06">PfbZIP105</text>
<text x="327.00" y="142.36" font-size="2.85" fill="#7e6c64" textLength="13.8" lengthAdjust="spacingAndGlyphs" stroke="#7e6c64" stroke-width="0.06">PfbZIP2</text>
<text x="327.00" y="144.85" font-size="2.85" fill="#7e6c64" textLength="13.8" lengthAdjust="spacingAndGlyphs" stroke="#7e6c64" stroke-width="0.06">PfbZIP39</text>
<text x="327.00" y="147.34" font-size="2.85" fill="#7e6c64" textLength="13.8" lengthAdjust="spacingAndGlyphs" stroke="#7e6c64" stroke-width="0.06">PfbZIP76</text>
<text x="327.00" y="149.82" font-size="2.85" fill="#7e6c64" textLength="13.8" lengthAdjust="spacingAndGlyphs" stroke="#7e6c64" stroke-width="0.06">PfbZIP113</text>
<text x="327.00" y="152.31" font-size="2.85" fill="#7e6c64" textLength="13.8" lengthAdjust="spacingAndGlyphs" stroke="#7e6c64" stroke-width="0.06">PfbZIP10</text>
<text x="327.00" y="154.80" font-size="2.85" fill="#7e6c64" textLength="13.8" lengthAdjust="spacingAndGlyphs" stroke="#7e6c64" stroke-width="0.06">PfbZIP47</text>
<text x="327.00" y="157.28" font-size="2.85" fill="#7e6c64" textLength="13.8" lengthAdjust="spacingAndGlyphs" stroke="#7e6c64" stroke-width="0.06">PfbZIP84</text>
<text x="327.00" y="159.77" font-size="2.85" fill="#7e6c64" textLength="13.8" lengthAdjust="spacingAndGlyphs" stroke="#7e6c64" stroke-width="0.06">PfbZIP121</text>
<text x="327.00" y="162.26" font-size="2.85" fill="#7e6c64" textLength="13.8" lengthAdjust="spacingAndGlyphs" stroke="#7e6c64" stroke-width="0.06">PfbZIP18</text>
<text x="327.00" y="164.75" font-size="2.85" fill="#7e6c64" textLength="13.8" lengthAdjust="spacingAndGlyphs" stroke="#7e6c64" stroke-width="0.06">PfbZIP55</text>
<text x="327.00" y="167.23" font-size="2.85" fill="#7e6c64" textLength="13.8" lengthAdjust="spacingAndGlyphs" stroke="#7e6c64" stroke-width="0.06">PfbZIP92</text>
<text x="327.00" y="169.72" font-size="2.85" fill="#7e6c64" textLength="13.8" lengthAdjust="spacingAndGlyphs" stroke="#7e6c64" stroke-width="0.06">PfbZIP129</text>
<text x="327.00" y="172.21" font-size="2.85" fill="#7e6c64" textLength="13.8" lengthAdjust="spacingAndGlyphs" stroke="#7e6c64" stroke-width="0.06">PfbZIP26</text>
<text x="327.00" y="174.70" font-size="2.85" fill="#7e6c64" textLength="13.8" lengthAdjust="spacingAndGlyphs" stroke="#7e6c64" stroke-width="0.06">PfbZIP63</text>
<text x="327.00" y="177.18" font-size="2.85" fill="#7e6c64" textLength="13.8" lengthAdjust="spacingAndGlyphs" stroke="#7e6c64" stroke-width="0.06">PfbZIP100</text>
<text x="327.00" y="179.67" font-size="2.85" fill="#7e6c64" textLength="13.8" lengthAdjust="spacingAndGlyphs" stroke="#7e6c64" stroke-width="0.06">PfbZIP137</text>
<text x="327.00" y="182.16" font-size="2.85" fill="#7e6c64" textLength="13.8" lengthAdjust="spacingAndGlyphs" stroke="#7e6c64" stroke-width="0.06">PfbZIP34</text>
<text x="327.00" y="184.64" font-size="2.85" fill="#7e6c64" textLength="13.8" lengthAdjust="spacingAndGlyphs" stroke="#7e6c64" stroke-width="0.06">PfbZIP71</text>
<text x="327.00" y="187.13" font-size="2.85" fill="#7e6c64" textLength="13.8" lengthAdjust="spacingAndGlyphs" stroke="#7e6c64" stroke-width="0.06">PfbZIP108</text>
<text x="327.00" y="189.62" font-size="2.85" fill="#7e6c64" textLength="13.8" lengthAdjust="spacingAndGlyphs" stroke="#7e6c64" stroke-width="0.06">PfbZIP5</text>
<text x="327.00" y="192.11" font-size="2.85" fill="#7e6c64" textLength="13.8" lengthAdjust="spacingAndGlyphs" stroke="#7e6c64" stroke-width="0.06">PfbZIP42</text>
<text x="327.00" y="194.59" font-size="2.85" fill="#7e6c64" textLength="13.8" lengthAdjust="spacingAndGlyphs" stroke="#7e6c64" stroke-width="0.06">PfbZIP79</text>
<text x="327.00" y="197.08" font-size="2.85" fill="#7e6c64" textLength="13.8" lengthAdjust="spacingAndGlyphs" stroke="#7e6c64" stroke-width="0.06">PfbZIP116</text>
<text x="327.00" y="199.57" font-size="2.85" fill="#7e6c64" textLength="13.8" lengthAdjust="spacingAndGlyphs" stroke="#7e6c64" stroke-width="0.06">PfbZIP13</text>
<text x="327.00" y="202.05" font-size="2.85" fill="#7e6c64" textLength="13.8" lengthAdjust="spacingAndGlyphs" stroke="#7e6c64" stroke-width="0.06">PfbZIP50</text>
<text x="327.00" y="204.54" font-size="2.85" fill="#7e6c64" textLength="13.8" lengthAdjust="spacingAndGlyphs" stroke="#7e6c64" stroke-width="0.06">PfbZIP87</text>
<text x="327.00" y="207.03" font-size="2.85" fill="#7e6c64" textLength="13.8" lengthAdjust="spacingAndGlyphs" stroke="#7e6c64" stroke-width="0.06">PfbZIP124</text>
<text x="327.00" y="209.52" font-size="2.85" fill="#7e6c64" textLength="13.8" lengthAdjust="spacingAndGlyphs" stroke="#7e6c64" stroke-width="0.06">PfbZIP21</text>
<text x="327.00" y="212.00" font-size="2.85" fill="#7e6c64" textLength="13.8" lengthAdjust="spacingAndGlyphs" stroke="#7e6c64" stroke-width="0.06">PfbZIP58</text>
<text x="327.00" y="214.49" font-size="2.85" fill="#7e6c64" textLength="13.8" lengthAdjust="spacingAndGlyphs" stroke="#7e6c64" stroke-width="0.06">PfbZIP95</text>
<text x="327.00" y="216.98" font-size="2.85" fill="#7e6c64" textLength="13.8" lengthAdjust="spacingAndGlyphs" stroke="#7e6c64" stroke-width="0.06">PfbZIP132</text>
<text x="327.00" y="219.46" font-size="2.85" fill="#7e6c64" textLength="13.8" lengthAdjust="spacingAndGlyphs" stroke="#7e6c64" stroke-width="0.06">PfbZIP29</text>
<text x="327.00" y="221.95" font-size="2.85" fill="#7e6c64" textLength="13.8" lengthAdjust="spacingAndGlyphs" stroke="#7e6c64" stroke-width="0.06">PfbZIP66</text>
<text x="327.00" y="224.44" font-size="2.85" fill="#7e6c64" textLength="13.8" lengthAdjust="spacingAndGlyphs" stroke="#7e6c64" stroke-width="0.06">PfbZIP103</text>
<text x="327.00" y="226.93" font-size="2.85" fill="#7e6c64" textLength="13.8" lengthAdjust="spacingAndGlyphs" stroke="#7e6c64" stroke-width="0.06">PfbZIP140</text>
<text x="327.00" y="229.41" font-size="2.85" fill="#7e6c64" textLength="13.8" lengthAdjust="spacingAndGlyphs" stroke="#7e6c64" stroke-width="0.06">PfbZIP37</text>
<text x="327.00" y="231.90" font-size="2.85" fill="#7e6c64" textLength="13.8" lengthAdjust="spacingAndGlyphs" stroke="#7e6c64" stroke-width="0.06">PfbZIP74</text>
<text x="327.00" y="234.39" font-size="2.85" fill="#7e6c64" textLength="13.8" lengthAdjust="spacingAndGlyphs" stroke="#7e6c64" stroke-width="0.06">PfbZIP111</text>
<text x="327.00" y="236.87" font-size="2.85" fill="#7e6c64" textLength="13.8" lengthAdjust="spacingAndGlyphs" stroke="#7e6c64" stroke-width="0.06">PfbZIP8</text>
<text x="327.00" y="239.36" font-size="2.85" fill="#7e6c64" textLength="13.8" lengthAdjust="spacingAndGlyphs" stroke="#7e6c64" stroke-width="0.06">PfbZIP45</text>
<text x="327.00" y="241.85" font-size="2.85" fill="#7e6c64" textLength="13.8" lengthAdjust="spacingAndGlyphs" stroke="#7e6c64" stroke-width="0.06">PfbZIP82</text>
<text x="327.00" y="244.34" font-size="2.85" fill="#7e6c64" textLength="13.8" lengthAdjust="spacingAndGlyphs" stroke="#7e6c64" stroke-width="0.06">PfbZIP119</text>
<text x="327.00" y="246.82" font-size="2.85" fill="#7e6c64" textLength="13.8" lengthAdjust="spacingAndGlyphs" stroke="#7e6c64" stroke-width="0.06">PfbZIP16</text>
<text x="327.00" y="249.31" font-size="2.85" fill="#7e6c64" textLength="13.8" lengthAdjust="spacingAndGlyphs" stroke="#7e6c64" stroke-width="0.06">PfbZIP53</text>
<text x="327.00" y="251.80" font-size="2.85" fill="#7e6c64" textLength="13.8" lengthAdjust="spacingAndGlyphs" stroke="#7e6c64" stroke-width="0.06">PfbZIP90</text>
<text x="327.00" y="254.28" font-size="2.85" fill="#7e6c64" textLength="13.8" lengthAdjust="spacingAndGlyphs" stroke="#7e6c64" stroke-width="0.06">PfbZIP127</text>
<text x="327.00" y="256.77" font-size="2.85" fill="#7e6c64" textLength="13.8" lengthAdjust="spacingAndGlyphs" stroke="#7e6c64" stroke-width="0.06">PfbZIP24</text>
<text x="327.00" y="259.26" font-size="2.85" fill="#7e6c64" textLength="13.8" lengthAdjust="spacingAndGlyphs" stroke="#7e6c64" stroke-width="0.06">PfbZIP61</text>
<text x="327.00" y="261.75" font-size="2.85" fill="#7e6c64" textLength="13.8" lengthAdjust="spacingAndGlyphs" stroke="#7e6c64" stroke-width="0.06">PfbZIP98</text>
<text x="327.00" y="264.23" font-size="2.85" fill="#7e6c64" textLength="13.8" lengthAdjust="spacingAndGlyphs" stroke="#7e6c64" stroke-width="0.06">PfbZIP135</text>
<text x="327.00" y="266.72" font-size="2.85" fill="#7e6c64" textLength="13.8" lengthAdjust="spacingAndGlyphs" stroke="#7e6c64" stroke-width="0.06">PfbZIP32</text>
<text x="327.00" y="269.21" font-size="2.85" fill="#7e6c64" textLength="13.8" lengthAdjust="spacingAndGlyphs" stroke="#7e6c64" stroke-width="0.06">PfbZIP69</text>
<text x="327.00" y="271.69" font-size="2.85" fill="#7e6c64" textLength="13.8" lengthAdjust="spacingAndGlyphs" stroke="#7e6c64" stroke-width="0.06">PfbZIP106</text>
<text x="327.00" y="274.18" font-size="2.85" fill="#7e6c64" textLength="13.8" lengthAdjust="spacingAndGlyphs" stroke="#7e6c64" stroke-width="0.06">PfbZIP3</text>
<text x="327.00" y="276.67" font-size="2.85" fill="#7e6c64" textLength="13.8" lengthAdjust="spacingAndGlyphs" stroke="#7e6c64" stroke-width="0.06">PfbZIP40</text>
<text x="327.00" y="279.16" font-size="2.85" fill="#7e6c64" textLength="13.8" lengthAdjust="spacingAndGlyphs" stroke="#7e6c64" stroke-width="0.06">PfbZIP77</text>
<text x="327.00" y="281.64" font-size="2.85" fill="#7e6c64" textLength="13.8" lengthAdjust="spacingAndGlyphs" stroke="#7e6c64" stroke-width="0.06">PfbZIP114</text>
<text x="327.00" y="284.13" font-size="2.85" fill="#7e6c64" textLength="13.8" lengthAdjust="spacingAndGlyphs" stroke="#7e6c64" stroke-width="0.06">PfbZIP11</text>
<text x="327.00" y="286.62" font-size="2.85" fill="#7e6c64" textLength="13.8" lengthAdjust="spacingAndGlyphs" stroke="#7e6c64" stroke-width="0.06">PfbZIP48</text>
<text x="327.00" y="289.10" font-size="2.85" fill="#7e6c64" textLength="13.8" lengthAdjust="spacingAndGlyphs" stroke="#7e6c64" stroke-width="0.06">PfbZIP85</text>
<text x="327.00" y="291.59" font-size="2.85" fill="#7e6c64" textLength="13.8" lengthAdjust="spacingAndGlyphs" stroke="#7e6c64" stroke-width="0.06">PfbZIP122</text>
<text x="327.00" y="294.08" font-size="2.85" fill="#7e6c64" textLength="13.8" lengthAdjust="spacingAndGlyphs" stroke="#7e6c64" stroke-width="0.06">PfbZIP19</text>
<text x="327.00" y="296.56" font-size="2.85" fill="#7e6c64" textLength="13.8" lengthAdjust="spacingAndGlyphs" stroke="#7e6c64" stroke-width="0.06">PfbZIP56</text>
<text x="327.00" y="299.05" font-size="2.85" fill="#7e6c64" textLength="13.8" lengthAdjust="spacingAndGlyphs" stroke="#7e6c64" stroke-width="0.06">PfbZIP93</text>
<text x="327.00" y="301.54" font-size="2.85" fill="#7e6c64" textLength="13.8" lengthAdjust="spacingAndGlyphs" stroke="#7e6c64" stroke-width="0.06">PfbZIP130</text>
<text x="327.00" y="304.03" font-size="2.85" fill="#7e6c64" textLength="13.8" lengthAdjust="spacingAndGlyphs" stroke="#7e6c64" stroke-width="0.06">PfbZIP27</text>
<text x="327.00" y="306.51" font-size="2.85" fill="#7e6c64" textLength="13.8" lengthAdjust="spacingAndGlyphs" stroke="#7e6c64" stroke-width="0.06">PfbZIP64</text>
<text x="327.00" y="309.00" font-size="2.85" fill="#7e6c64" textLength="13.8" lengthAdjust="spacingAndGlyphs" stroke="#7e6c64" stroke-width="0.06">PfbZIP101</text>
<text x="327.00" y="311.49" font-size="2.85" fill="#7e6c64" textLength="13.8" lengthAdjust="spacingAndGlyphs" stroke="#7e6c64" stroke-width="0.06">PfbZIP138</text>
<text x="327.00" y="313.98" font-size="2.85" fill="#7e6c64" textLength="13.8" lengthAdjust="spacingAndGlyphs" stroke="#7e6c64" stroke-width="0.06">PfbZIP35</text>
<text x="327.00" y="316.46" font-size="2.85" fill="#7e6c64" textLength="13.8" lengthAdjust="spacingAndGlyphs" stroke="#7e6c64" stroke-width="0.06">PfbZIP72</text>
<text x="327.00" y="318.95" font-size="2.85" fill="#7e6c64" textLength="13.8" lengthAdjust="spacingAndGlyphs" stroke="#7e6c64" stroke-width="0.06">PfbZIP109</text>
<text x="327.00" y="321.44" font-size="2.85" fill="#7e6c64" textLength="13.8" lengthAdjust="spacingAndGlyphs" stroke="#7e6c64" stroke-width="0.06">PfbZIP6</text>
<text x="327.00" y="323.92" font-size="2.85" fill="#7e6c64" textLength="13.8" lengthAdjust="spacingAndGlyphs" stroke="#7e6c64" stroke-width="0.06">PfbZIP43</text>
<text x="327.00" y="326.41" font-size="2.85" fill="#7e6c64" textLength="13.8" lengthAdjust="spacingAndGlyphs" stroke="#7e6c64" stroke-width="0.06">PfbZIP80</text>
<text x="327.00" y="328.90" font-size="2.85" fill="#7e6c64" textLength="13.8" lengthAdjust="spacingAndGlyphs" stroke="#7e6c64" stroke-width="0.06">PfbZIP117</text>
<text x="327.00" y="331.38" font-size="2.85" fill="#7e6c64" textLength="13.8" lengthAdjust="spacingAndGlyphs" stroke="#7e6c64" stroke-width="0.06">PfbZIP14</text>
<text x="327.00" y="333.87" font-size="2.85" fill="#7e6c64" textLength="13.8" lengthAdjust="spacingAndGlyphs" stroke="#7e6c64" stroke-width="0.06">PfbZIP51</text>
<text x="327.00" y="336.36" font-size="2.85" fill="#7e6c64" textLength="13.8" lengthAdjust="spacingAndGlyphs" stroke="#7e6c64" stroke-width="0.06">PfbZIP88</text>
<text x="327.00" y="338.85" font-size="2.85" fill="#7e6c64" textLength="13.8" lengthAdjust="spacingAndGlyphs" stroke="#7e6c64" stroke-width="0.06">PfbZIP125</text>
<text x="327.00" y="341.33" font-size="2.85" fill="#7e6c64" textLength="13.8" lengthAdjust="spacingAndGlyphs" stroke="#7e6c64" stroke-width="0.06">PfbZIP22</text>
<text x="327.00" y="343.82" font-size="2.85" fill="#7e6c64" textLength="13.8" lengthAdjust="spacingAndGlyphs" stroke="#7e6c64" stroke-width="0.06">PfbZIP59</text>
<text x="327.00" y="346.31" font-size="2.85" fill="#7e6c64" textLength="13.8" lengthAdjust="spacingAndGlyphs" stroke="#7e6c64" stroke-width="0.06">PfbZIP96</text>
<text x="327.00" y="348.80" font-size="2.85" fill="#7e6c64" textLength="13.8" lengthAdjust="spacingAndGlyphs" stroke="#7e6c64" stroke-width="0.06">PfbZIP133</text>
<text x="327.00" y="351.28" font-size="2.85" fill="#7e6c64" textLength="13.8" lengthAdjust="spacingAndGlyphs" stroke="#7e6c64" stroke-width="0.06">PfbZIP30</text>
<text x="327.00" y="353.77" font-size="2.85" fill="#7e6c64" textLength="13.8" lengthAdjust="spacingAndGlyphs" stroke="#7e6c64" stroke-width="0.06">PfbZIP67</text>
<text x="327.00" y="356.26" font-size="2.85" fill="#7e6c64" textLength="13.8" lengthAdjust="spacingAndGlyphs" stroke="#7e6c64" stroke-width="0.06">PfbZIP104</text>
<rect x="224.40" y="361.00" width="33.00" height="1.70" fill="#c8cc6a"/>
<rect x="257.40" y="361.00" width="33.00" height="1.70" fill="#8cc27a"/>
<rect x="290.40" y="361.00" width="33.80" height="1.70" fill="#d67ccc"/>
<text x="241.50" y="368.80" font-size="6.4" text-anchor="middle" fill="#231f20">10 DAF</text>
<text x="274.30" y="368.80" font-size="6.4" text-anchor="middle" fill="#231f20">20 DAF</text>
<text x="308.00" y="368.80" font-size="6.4" text-anchor="middle" fill="#231f20">30 DAF</text>
<defs><linearGradient id="lg" x1="0" y1="0" x2="0" y2="1"><stop offset="0" stop-color="#c02a3a"/><stop offset="0.25" stop-color="#e0909a"/><stop offset="0.5" stop-color="#f6f4f6"/><stop offset="0.75" stop-color="#9ab0d4"/><stop offset="1" stop-color="#3a62a6"/></linearGradient></defs>
<rect x="345.40" y="8.00" width="4.60" height="27.80" fill="url(#lg)"/>
<text x="351.00" y="11.80" font-size="4.5" fill="#3a3434">2</text>
<text x="351.00" y="17.90" font-size="4.5" fill="#3a3434">1</text>
<text x="351.00" y="23.50" font-size="4.5" fill="#3a3434">0</text>
<text x="351.00" y="29.10" font-size="4.5" fill="#3a3434">-1</text>
<text x="351.00" y="34.80" font-size="4.5" fill="#3a3434">-2</text>
<text x="356.60" y="10.70" font-size="7.2" font-weight="bold" fill="#231f20">E</text>
<text x="405.00" y="20.30" font-size="5.4" text-anchor="middle" font-weight="bold" font-style="italic" fill="#1a1616" stroke="#1a1616" stroke-width="0.12">PfbZIP1</text>
<rect x="381.15" y="65.83" width="8.70" height="17.47" fill="#c98a2c"/>
<line x1="385.50" y1="61.14" x2="385.50" y2="65.83" stroke="#333" stroke-width="0.5"/>
<line x1="384.60" y1="61.14" x2="386.40" y2="61.14" stroke="#333" stroke-width="0.5"/>
<rect x="398.15" y="58.54" width="8.70" height="24.76" fill="#c98a2c"/>
<line x1="402.50" y1="54.75" x2="402.50" y2="58.54" stroke="#333" stroke-width="0.5"/>
<line x1="401.60" y1="54.75" x2="403.40" y2="54.75" stroke="#333" stroke-width="0.5"/>
<rect x="415.25" y="57.65" width="8.70" height="25.65" fill="#c98a2c"/>
<line x1="419.60" y1="55.15" x2="419.60" y2="57.65" stroke="#333" stroke-width="0.5"/>
<line x1="418.70" y1="55.15" x2="420.50" y2="55.15" stroke="#333" stroke-width="0.5"/>
<path d="M385.50,51.96 L402.50,48.26 L419.60,38.08" fill="none" stroke="#4677c9" stroke-width="0.9"/>
<line x1="385.50" y1="49.96" x2="385.50" y2="53.95" stroke="#333" stroke-width="0.5"/>
<line x1="384.60" y1="49.96" x2="386.40" y2="49.96" stroke="#333" stroke-width="0.5"/>
<line x1="384.60" y1="53.95" x2="386.40" y2="53.95" stroke="#333" stroke-width="0.5"/>
<rect x="384.50" y="50.96" width="2.00" height="2.00" fill="#4677c9"/>
<line x1="402.50" y1="44.87" x2="402.50" y2="51.46" stroke="#333" stroke-width="0.5"/>
<line x1="401.60" y1="44.87" x2="403.40" y2="44.87" stroke="#333" stroke-width="0.5"/>
<line x1="401.60" y1="51.46" x2="403.40" y2="51.46" stroke="#333" stroke-width="0.5"/>
<rect x="401.50" y="47.26" width="2.00" height="2.00" fill="#4677c9"/>
<line x1="419.60" y1="33.79" x2="419.60" y2="41.87" stroke="#333" stroke-width="0.5"/>
<line x1="418.70" y1="33.79" x2="420.50" y2="33.79" stroke="#333" stroke-width="0.5"/>
<line x1="418.70" y1="41.87" x2="420.50" y2="41.87" stroke="#333" stroke-width="0.5"/>
<rect x="418.60" y="37.08" width="2.00" height="2.00" fill="#4677c9"/>
<rect x="374.30" y="27.40" width="56.00" height="55.90" fill="none" stroke="#8a8482" stroke-width="0.8"/>
<line x1="373.10" y1="27.40" x2="374.30" y2="27.40" stroke="#444" stroke-width="0.5"/>
<text x="372.70" y="29.00" font-size="4.8" text-anchor="end" fill="#221c1c" stroke="#221c1c" stroke-width="0.1">20</text>
<line x1="373.10" y1="41.47" x2="374.30" y2="41.47" stroke="#444" stroke-width="0.5"/>
<text x="372.70" y="43.07" font-size="4.8" text-anchor="end" fill="#221c1c" stroke="#221c1c" stroke-width="0.1">15</text>
<line x1="373.10" y1="55.55" x2="374.30" y2="55.55" stroke="#444" stroke-width="0.5"/>
<text x="372.70" y="57.15" font-size="4.8" text-anchor="end" fill="#221c1c" stroke="#221c1c" stroke-width="0.1">10</text>
<line x1="373.10" y1="69.62" x2="374.30" y2="69.62" stroke="#444" stroke-width="0.5"/>
<text x="372.70" y="71.22" font-size="4.8" text-anchor="end" fill="#221c1c" stroke="#221c1c" stroke-width="0.1">5</text>
<line x1="373.10" y1="83.30" x2="374.30" y2="83.30" stroke="#444" stroke-width="0.5"/>
<text x="372.70" y="84.90" font-size="4.8" text-anchor="end" fill="#221c1c" stroke="#221c1c" stroke-width="0.1">0</text>
<line x1="429.10" y1="27.40" x2="430.30" y2="27.40" stroke="#444" stroke-width="0.5"/>
<text x="432.20" y="28.55" font-size="4.5" fill="#221c1c" stroke="#221c1c" stroke-width="0.08">4</text>
<line x1="429.10" y1="35.59" x2="430.30" y2="35.59" stroke="#444" stroke-width="0.5"/>
<text x="432.20" y="36.74" font-size="4.5" fill="#221c1c" stroke="#221c1c" stroke-width="0.08">3</text>
<line x1="429.10" y1="43.77" x2="430.30" y2="43.77" stroke="#444" stroke-width="0.5"/>
<text x="432.20" y="44.92" font-size="4.5" fill="#221c1c" stroke="#221c1c" stroke-width="0.08">2</text>
<line x1="429.10" y1="51.96" x2="430.30" y2="51.96" stroke="#444" stroke-width="0.5"/>
<text x="432.20" y="53.11" font-size="4.5" fill="#221c1c" stroke="#221c1c" stroke-width="0.08">1</text>
<line x1="429.10" y1="61.94" x2="430.30" y2="61.94" stroke="#444" stroke-width="0.5"/>
<text x="432.20" y="63.09" font-size="4.5" fill="#221c1c" stroke="#221c1c" stroke-width="0.08">0.2</text>
<line x1="429.10" y1="72.62" x2="430.30" y2="72.62" stroke="#444" stroke-width="0.5"/>
<text x="432.20" y="73.77" font-size="4.5" fill="#221c1c" stroke="#221c1c" stroke-width="0.08">0.1</text>
<line x1="429.10" y1="83.30" x2="430.30" y2="83.30" stroke="#444" stroke-width="0.5"/>
<text x="432.20" y="84.45" font-size="4.5" fill="#221c1c" stroke="#221c1c" stroke-width="0.08">0.0</text>
<rect x="429.30" y="57.94" width="2" height="1.8" fill="#fff"/>
<line x1="429.10" y1="60.44" x2="431.60" y2="56.94" stroke="#222" stroke-width="0.75"/>
<line x1="429.90" y1="61.04" x2="431.90" y2="58.24" stroke="#222" stroke-width="0.6"/>
<line x1="385.50" y1="83.30" x2="385.50" y2="84.40" stroke="#444" stroke-width="0.5"/>
<line x1="402.50" y1="83.30" x2="402.50" y2="84.40" stroke="#444" stroke-width="0.5"/>
<line x1="419.60" y1="83.30" x2="419.60" y2="84.40" stroke="#444" stroke-width="0.5"/>
<text x="385.50" y="90.10" font-size="4.5" text-anchor="middle" fill="#221c1c" textLength="12.6" lengthAdjust="spacingAndGlyphs" stroke="#221c1c" stroke-width="0.1">10 DAF</text>
<text x="402.50" y="90.10" font-size="4.5" text-anchor="middle" fill="#221c1c" textLength="12.6" lengthAdjust="spacingAndGlyphs" stroke="#221c1c" stroke-width="0.1">20 DAF</text>
<text x="419.60" y="90.10" font-size="4.5" text-anchor="middle" fill="#221c1c" textLength="12.6" lengthAdjust="spacingAndGlyphs" stroke="#221c1c" stroke-width="0.1">30 DAF</text>
<text x="366.60" y="55.50" font-size="5.6" text-anchor="middle" fill="#221c1c" transform="rotate(-90 366.6 55.49999999999999)">FPKM</text>
<text x="445.20" y="52.35" font-size="5.6" text-anchor="middle" fill="#221c1c" transform="rotate(-90 445.2 52.349999999999994)">Relative expression</text>
<text x="503.00" y="20.30" font-size="5.4" text-anchor="middle" font-weight="bold" font-style="italic" fill="#1a1616" stroke="#1a1616" stroke-width="0.12">PfbZIP4</text>
<rect x="478.85" y="72.62" width="8.70" height="10.68" fill="#c98a2c"/>
<line x1="483.20" y1="70.52" x2="483.20" y2="72.62" stroke="#333" stroke-width="0.5"/>
<line x1="482.30" y1="70.52" x2="484.10" y2="70.52" stroke="#333" stroke-width="0.5"/>
<rect x="495.95" y="65.33" width="8.70" height="17.97" fill="#c98a2c"/>
<line x1="500.30" y1="63.24" x2="500.30" y2="65.33" stroke="#333" stroke-width="0.5"/>
<line x1="499.40" y1="63.24" x2="501.20" y2="63.24" stroke="#333" stroke-width="0.5"/>
<rect x="512.95" y="66.43" width="8.70" height="16.87" fill="#c98a2c"/>
<line x1="517.30" y1="64.93" x2="517.30" y2="66.43" stroke="#333" stroke-width="0.5"/>
<line x1="516.40" y1="64.93" x2="518.20" y2="64.93" stroke="#333" stroke-width="0.5"/>
<path d="M483.20,57.25 L500.30,41.67 L517.30,60.44" fill="none" stroke="#4677c9" stroke-width="0.9"/>
<line x1="483.20" y1="55.15" x2="483.20" y2="59.34" stroke="#333" stroke-width="0.5"/>
<line x1="482.30" y1="55.15" x2="484.10" y2="55.15" stroke="#333" stroke-width="0.5"/>
<line x1="482.30" y1="59.34" x2="484.10" y2="59.34" stroke="#333" stroke-width="0.5"/>
<rect x="482.20" y="56.25" width="2.00" height="2.00" fill="#4677c9"/>
<line x1="500.30" y1="33.39" x2="500.30" y2="49.76" stroke="#333" stroke-width="0.5"/>
<line x1="499.40" y1="33.39" x2="501.20" y2="33.39" stroke="#333" stroke-width="0.5"/>
<line x1="499.40" y1="49.76" x2="501.20" y2="49.76" stroke="#333" stroke-width="0.5"/>
<rect x="499.30" y="40.67" width="2.00" height="2.00" fill="#4677c9"/>
<line x1="517.30" y1="58.94" x2="517.30" y2="61.94" stroke="#333" stroke-width="0.5"/>
<line x1="516.40" y1="58.94" x2="518.20" y2="58.94" stroke="#333" stroke-width="0.5"/>
<line x1="516.40" y1="61.94" x2="518.20" y2="61.94" stroke="#333" stroke-width="0.5"/>
<rect x="516.30" y="59.44" width="2.00" height="2.00" fill="#4677c9"/>
<rect x="472.10" y="27.40" width="56.10" height="55.90" fill="none" stroke="#8a8482" stroke-width="0.8"/>
<line x1="470.90" y1="27.40" x2="472.10" y2="27.40" stroke="#444" stroke-width="0.5"/>
<text x="470.50" y="29.00" font-size="4.8" text-anchor="end" fill="#221c1c" stroke="#221c1c" stroke-width="0.1">30</text>
<line x1="470.90" y1="46.17" x2="472.10" y2="46.17" stroke="#444" stroke-width="0.5"/>
<text x="470.50" y="47.77" font-size="4.8" text-anchor="end" fill="#221c1c" stroke="#221c1c" stroke-width="0.1">20</text>
<line x1="470.90" y1="64.73" x2="472.10" y2="64.73" stroke="#444" stroke-width="0.5"/>
<text x="470.50" y="66.33" font-size="4.8" text-anchor="end" fill="#221c1c" stroke="#221c1c" stroke-width="0.1">10</text>
<line x1="470.90" y1="83.30" x2="472.10" y2="83.30" stroke="#444" stroke-width="0.5"/>
<text x="470.50" y="84.90" font-size="4.8" text-anchor="end" fill="#221c1c" stroke="#221c1c" stroke-width="0.1">0</text>
<line x1="527.00" y1="27.40" x2="528.20" y2="27.40" stroke="#444" stroke-width="0.5"/>
<text x="530.10" y="28.55" font-size="4.5" fill="#221c1c" stroke="#221c1c" stroke-width="0.08">4</text>
<line x1="527.00" y1="37.38" x2="528.20" y2="37.38" stroke="#444" stroke-width="0.5"/>
<text x="530.10" y="38.53" font-size="4.5" fill="#221c1c" stroke="#221c1c" stroke-width="0.08">3</text>
<line x1="527.00" y1="47.66" x2="528.20" y2="47.66" stroke="#444" stroke-width="0.5"/>
<text x="530.10" y="48.81" font-size="4.5" fill="#221c1c" stroke="#221c1c" stroke-width="0.08">2</text>
<line x1="527.00" y1="57.65" x2="528.20" y2="57.65" stroke="#444" stroke-width="0.5"/>
<text x="530.10" y="58.80" font-size="4.5" fill="#221c1c" stroke="#221c1c" stroke-width="0.08">1</text>
<line x1="527.00" y1="67.53" x2="528.20" y2="67.53" stroke="#444" stroke-width="0.5"/>
<text x="530.10" y="68.68" font-size="4.5" fill="#221c1c" stroke="#221c1c" stroke-width="0.08">0.3</text>
<line x1="527.00" y1="72.62" x2="528.20" y2="72.62" stroke="#444" stroke-width="0.5"/>
<text x="530.10" y="73.77" font-size="4.5" fill="#221c1c" stroke="#221c1c" stroke-width="0.08">0.2</text>
<line x1="527.00" y1="78.01" x2="528.20" y2="78.01" stroke="#444" stroke-width="0.5"/>
<text x="530.10" y="79.16" font-size="4.5" fill="#221c1c" stroke="#221c1c" stroke-width="0.08">0.1</text>
<line x1="527.00" y1="83.30" x2="528.20" y2="83.30" stroke="#444" stroke-width="0.5"/>
<text x="530.10" y="84.45" font-size="4.5" fill="#221c1c" stroke="#221c1c" stroke-width="0.08">0.0</text>
<rect x="527.20" y="61.74" width="2" height="1.8" fill="#fff"/>
<line x1="527.00" y1="64.24" x2="529.50" y2="60.74" stroke="#222" stroke-width="0.75"/>
<line x1="527.80" y1="64.84" x2="529.80" y2="62.04" stroke="#222" stroke-width="0.6"/>
<line x1="483.20" y1="83.30" x2="483.20" y2="84.40" stroke="#444" stroke-width="0.5"/>
<line x1="500.30" y1="83.30" x2="500.30" y2="84.40" stroke="#444" stroke-width="0.5"/>
<line x1="517.30" y1="83.30" x2="517.30" y2="84.40" stroke="#444" stroke-width="0.5"/>
<text x="483.20" y="90.10" font-size="4.5" text-anchor="middle" fill="#221c1c" textLength="12.6" lengthAdjust="spacingAndGlyphs" stroke="#221c1c" stroke-width="0.1">10 DAF</text>
<text x="500.30" y="90.10" font-size="4.5" text-anchor="middle" fill="#221c1c" textLength="12.6" lengthAdjust="spacingAndGlyphs" stroke="#221c1c" stroke-width="0.1">20 DAF</text>
<text x="517.30" y="90.10" font-size="4.5" text-anchor="middle" fill="#221c1c" textLength="12.6" lengthAdjust="spacingAndGlyphs" stroke="#221c1c" stroke-width="0.1">30 DAF</text>
<text x="464.40" y="57.95" font-size="5.6" text-anchor="middle" fill="#221c1c" transform="rotate(-90 464.40000000000003 57.949999999999996)">FPKM</text>
<text x="543.10" y="55.05" font-size="5.6" text-anchor="middle" fill="#221c1c" transform="rotate(-90 543.1 55.05)">Relative expression</text>
<text x="404.60" y="107.60" font-size="5.4" text-anchor="middle" font-weight="bold" font-style="italic" fill="#1a1616" stroke="#1a1616" stroke-width="0.12">PfbZIP5</text>
<rect x="381.15" y="145.50" width="8.70" height="22.00" fill="#c98a2c"/>
<line x1="385.50" y1="138.20" x2="385.50" y2="145.50" stroke="#333" stroke-width="0.5"/>
<line x1="384.60" y1="138.20" x2="386.40" y2="138.20" stroke="#333" stroke-width="0.5"/>
<rect x="398.15" y="136.10" width="8.70" height="31.40" fill="#c98a2c"/>
<line x1="402.50" y1="135.60" x2="402.50" y2="136.10" stroke="#333" stroke-width="0.5"/>
<line x1="401.60" y1="135.60" x2="403.40" y2="135.60" stroke="#333" stroke-width="0.5"/>
<rect x="415.25" y="141.90" width="8.70" height="25.60" fill="#c98a2c"/>
<line x1="419.60" y1="140.80" x2="419.60" y2="141.90" stroke="#333" stroke-width="0.5"/>
<line x1="418.70" y1="140.80" x2="420.50" y2="140.80" stroke="#333" stroke-width="0.5"/>
<path d="M385.50,125.00 L402.50,125.00 L419.60,136.10" fill="none" stroke="#4677c9" stroke-width="0.9"/>
<line x1="385.50" y1="122.20" x2="385.50" y2="127.50" stroke="#333" stroke-width="0.5"/>
<line x1="384.60" y1="122.20" x2="386.40" y2="122.20" stroke="#333" stroke-width="0.5"/>
<line x1="384.60" y1="127.50" x2="386.40" y2="127.50" stroke="#333" stroke-width="0.5"/>
<rect x="384.50" y="124.00" width="2.00" height="2.00" fill="#4677c9"/>
<line x1="402.50" y1="123.50" x2="402.50" y2="126.50" stroke="#333" stroke-width="0.5"/>
<line x1="401.60" y1="123.50" x2="403.40" y2="123.50" stroke="#333" stroke-width="0.5"/>
<line x1="401.60" y1="126.50" x2="403.40" y2="126.50" stroke="#333" stroke-width="0.5"/>
<rect x="401.50" y="124.00" width="2.00" height="2.00" fill="#4677c9"/>
<line x1="419.60" y1="132.70" x2="419.60" y2="138.60" stroke="#333" stroke-width="0.5"/>
<line x1="418.70" y1="132.70" x2="420.50" y2="132.70" stroke="#333" stroke-width="0.5"/>
<line x1="418.70" y1="138.60" x2="420.50" y2="138.60" stroke="#333" stroke-width="0.5"/>
<rect x="418.60" y="135.10" width="2.00" height="2.00" fill="#4677c9"/>
<rect x="374.70" y="113.40" width="55.20" height="54.10" fill="none" stroke="#8a8482" stroke-width="0.8"/>
<line x1="373.50" y1="113.40" x2="374.70" y2="113.40" stroke="#444" stroke-width="0.5"/>
<text x="373.10" y="115.00" font-size="4.8" text-anchor="end" fill="#221c1c" stroke="#221c1c" stroke-width="0.1">30</text>
<line x1="373.50" y1="131.20" x2="374.70" y2="131.20" stroke="#444" stroke-width="0.5"/>
<text x="373.10" y="132.80" font-size="4.8" text-anchor="end" fill="#221c1c" stroke="#221c1c" stroke-width="0.1">20</text>
<line x1="373.50" y1="149.30" x2="374.70" y2="149.30" stroke="#444" stroke-width="0.5"/>
<text x="373.10" y="150.90" font-size="4.8" text-anchor="end" fill="#221c1c" stroke="#221c1c" stroke-width="0.1">10</text>
<line x1="373.50" y1="167.50" x2="374.70" y2="167.50" stroke="#444" stroke-width="0.5"/>
<text x="373.10" y="169.10" font-size="4.8" text-anchor="end" fill="#221c1c" stroke="#221c1c" stroke-width="0.1">0</text>
<line x1="428.70" y1="113.40" x2="429.90" y2="113.40" stroke="#444" stroke-width="0.5"/>
<text x="431.80" y="114.55" font-size="4.5" fill="#221c1c" stroke="#221c1c" stroke-width="0.08">1.5</text>
<line x1="428.70" y1="125.00" x2="429.90" y2="125.00" stroke="#444" stroke-width="0.5"/>
<text x="431.80" y="126.15" font-size="4.5" fill="#221c1c" stroke="#221c1c" stroke-width="0.08">1.0</text>
<line x1="428.70" y1="136.50" x2="429.90" y2="136.50" stroke="#444" stroke-width="0.5"/>
<text x="431.80" y="137.65" font-size="4.5" fill="#221c1c" stroke="#221c1c" stroke-width="0.08">0.5</text>
<line x1="428.70" y1="143.60" x2="429.90" y2="143.60" stroke="#444" stroke-width="0.5"/>
<text x="431.80" y="144.75" font-size="4.5" fill="#221c1c" stroke="#221c1c" stroke-width="0.08">0.3</text>
<line x1="428.70" y1="149.30" x2="429.90" y2="149.30" stroke="#444" stroke-width="0.5"/>
<text x="431.80" y="150.45" font-size="4.5" fill="#221c1c" stroke="#221c1c" stroke-width="0.08">0.2</text>
<line x1="428.70" y1="158.30" x2="429.90" y2="158.30" stroke="#444" stroke-width="0.5"/>
<text x="431.80" y="159.45" font-size="4.5" fill="#221c1c" stroke="#221c1c" stroke-width="0.08">0.1</text>
<line x1="428.70" y1="167.50" x2="429.90" y2="167.50" stroke="#444" stroke-width="0.5"/>
<text x="431.80" y="168.65" font-size="4.5" fill="#221c1c" stroke="#221c1c" stroke-width="0.08">0.0</text>
<rect x="428.90" y="139.30" width="2" height="1.8" fill="#fff"/>
<line x1="428.70" y1="141.80" x2="431.20" y2="138.30" stroke="#222" stroke-width="0.75"/>
<line x1="429.50" y1="142.40" x2="431.50" y2="139.60" stroke="#222" stroke-width="0.6"/>
<line x1="385.50" y1="167.50" x2="385.50" y2="168.60" stroke="#444" stroke-width="0.5"/>
<line x1="402.50" y1="167.50" x2="402.50" y2="168.60" stroke="#444" stroke-width="0.5"/>
<line x1="419.60" y1="167.50" x2="419.60" y2="168.60" stroke="#444" stroke-width="0.5"/>
<text x="385.50" y="174.30" font-size="4.5" text-anchor="middle" fill="#221c1c" textLength="12.6" lengthAdjust="spacingAndGlyphs" stroke="#221c1c" stroke-width="0.1">10 DAF</text>
<text x="402.50" y="174.30" font-size="4.5" text-anchor="middle" fill="#221c1c" textLength="12.6" lengthAdjust="spacingAndGlyphs" stroke="#221c1c" stroke-width="0.1">20 DAF</text>
<text x="419.60" y="174.30" font-size="4.5" text-anchor="middle" fill="#221c1c" textLength="12.6" lengthAdjust="spacingAndGlyphs" stroke="#221c1c" stroke-width="0.1">30 DAF</text>
<text x="367.00" y="141.20" font-size="5.6" text-anchor="middle" fill="#221c1c" transform="rotate(-90 367.0 141.2)">FPKM</text>
<text x="444.80" y="139.70" font-size="5.6" text-anchor="middle" fill="#221c1c" transform="rotate(-90 444.79999999999995 139.7)">Relative expression</text>
<text x="503.10" y="107.00" font-size="5.4" text-anchor="middle" font-weight="bold" font-style="italic" fill="#1a1616" stroke="#1a1616" stroke-width="0.12">PfbZIP9</text>
<rect x="478.85" y="148.30" width="8.70" height="19.20" fill="#c98a2c"/>
<rect x="495.95" y="138.60" width="8.70" height="28.90" fill="#c98a2c"/>
<line x1="500.30" y1="133.90" x2="500.30" y2="138.60" stroke="#333" stroke-width="0.5"/>
<line x1="499.40" y1="133.90" x2="501.20" y2="133.90" stroke="#333" stroke-width="0.5"/>
<rect x="512.95" y="146.10" width="8.70" height="21.40" fill="#c98a2c"/>
<path d="M483.20,131.60 L500.30,123.00 L517.30,136.50" fill="none" stroke="#4677c9" stroke-width="0.9"/>
<line x1="483.20" y1="129.60" x2="483.20" y2="133.60" stroke="#333" stroke-width="0.5"/>
<line x1="482.30" y1="129.60" x2="484.10" y2="129.60" stroke="#333" stroke-width="0.5"/>
<line x1="482.30" y1="133.60" x2="484.10" y2="133.60" stroke="#333" stroke-width="0.5"/>
<rect x="482.20" y="130.60" width="2.00" height="2.00" fill="#4677c9"/>
<line x1="500.30" y1="117.90" x2="500.30" y2="128.40" stroke="#333" stroke-width="0.5"/>
<line x1="499.40" y1="117.90" x2="501.20" y2="117.90" stroke="#333" stroke-width="0.5"/>
<line x1="499.40" y1="128.40" x2="501.20" y2="128.40" stroke="#333" stroke-width="0.5"/>
<rect x="499.30" y="122.00" width="2.00" height="2.00" fill="#4677c9"/>
<line x1="517.30" y1="132.70" x2="517.30" y2="139.70" stroke="#333" stroke-width="0.5"/>
<line x1="516.40" y1="132.70" x2="518.20" y2="132.70" stroke="#333" stroke-width="0.5"/>
<line x1="516.40" y1="139.70" x2="518.20" y2="139.70" stroke="#333" stroke-width="0.5"/>
<rect x="516.30" y="135.50" width="2.00" height="2.00" fill="#4677c9"/>
<rect x="472.10" y="113.40" width="55.60" height="54.10" fill="none" stroke="#8a8482" stroke-width="0.8"/>
<line x1="470.90" y1="113.40" x2="472.10" y2="113.40" stroke="#444" stroke-width="0.5"/>
<text x="470.50" y="115.00" font-size="4.8" text-anchor="end" fill="#221c1c" stroke="#221c1c" stroke-width="0.1">20</text>
<line x1="470.90" y1="127.30" x2="472.10" y2="127.30" stroke="#444" stroke-width="0.5"/>
<text x="470.50" y="128.90" font-size="4.8" text-anchor="end" fill="#221c1c" stroke="#221c1c" stroke-width="0.1">15</text>
<line x1="470.90" y1="141.40" x2="472.10" y2="141.40" stroke="#444" stroke-width="0.5"/>
<text x="470.50" y="143.00" font-size="4.8" text-anchor="end" fill="#221c1c" stroke="#221c1c" stroke-width="0.1">10</text>
<line x1="470.90" y1="154.00" x2="472.10" y2="154.00" stroke="#444" stroke-width="0.5"/>
<text x="470.50" y="155.60" font-size="4.8" text-anchor="end" fill="#221c1c" stroke="#221c1c" stroke-width="0.1">5</text>
<line x1="470.90" y1="167.50" x2="472.10" y2="167.50" stroke="#444" stroke-width="0.5"/>
<text x="470.50" y="169.10" font-size="4.8" text-anchor="end" fill="#221c1c" stroke="#221c1c" stroke-width="0.1">0</text>
<line x1="526.50" y1="113.40" x2="527.70" y2="113.40" stroke="#444" stroke-width="0.5"/>
<text x="529.60" y="114.55" font-size="4.5" fill="#221c1c" stroke="#221c1c" stroke-width="0.08">2.5</text>
<line x1="526.50" y1="125.40" x2="527.70" y2="125.40" stroke="#444" stroke-width="0.5"/>
<text x="529.60" y="126.55" font-size="4.5" fill="#221c1c" stroke="#221c1c" stroke-width="0.08">1.5</text>
<line x1="526.50" y1="136.90" x2="527.70" y2="136.90" stroke="#444" stroke-width="0.5"/>
<text x="529.60" y="138.05" font-size="4.5" fill="#221c1c" stroke="#221c1c" stroke-width="0.08">0.5</text>
<line x1="526.50" y1="143.60" x2="527.70" y2="143.60" stroke="#444" stroke-width="0.5"/>
<text x="529.60" y="144.75" font-size="4.5" fill="#221c1c" stroke="#221c1c" stroke-width="0.08">0.3</text>
<line x1="526.50" y1="149.30" x2="527.70" y2="149.30" stroke="#444" stroke-width="0.5"/>
<text x="529.60" y="150.45" font-size="4.5" fill="#221c1c" stroke="#221c1c" stroke-width="0.08">0.2</text>
<line x1="526.50" y1="158.50" x2="527.70" y2="158.50" stroke="#444" stroke-width="0.5"/>
<text x="529.60" y="159.65" font-size="4.5" fill="#221c1c" stroke="#221c1c" stroke-width="0.08">0.1</text>
<line x1="526.50" y1="167.50" x2="527.70" y2="167.50" stroke="#444" stroke-width="0.5"/>
<text x="529.60" y="168.65" font-size="4.5" fill="#221c1c" stroke="#221c1c" stroke-width="0.08">0.0</text>
<rect x="526.70" y="139.60" width="2" height="1.8" fill="#fff"/>
<line x1="526.50" y1="142.10" x2="529.00" y2="138.60" stroke="#222" stroke-width="0.75"/>
<line x1="527.30" y1="142.70" x2="529.30" y2="139.90" stroke="#222" stroke-width="0.6"/>
<line x1="483.20" y1="167.50" x2="483.20" y2="168.60" stroke="#444" stroke-width="0.5"/>
<line x1="500.30" y1="167.50" x2="500.30" y2="168.60" stroke="#444" stroke-width="0.5"/>
<line x1="517.30" y1="167.50" x2="517.30" y2="168.60" stroke="#444" stroke-width="0.5"/>
<text x="483.20" y="174.30" font-size="4.5" text-anchor="middle" fill="#221c1c" textLength="12.6" lengthAdjust="spacingAndGlyphs" stroke="#221c1c" stroke-width="0.1">10 DAF</text>
<text x="500.30" y="174.30" font-size="4.5" text-anchor="middle" fill="#221c1c" textLength="12.6" lengthAdjust="spacingAndGlyphs" stroke="#221c1c" stroke-width="0.1">20 DAF</text>
<text x="517.30" y="174.30" font-size="4.5" text-anchor="middle" fill="#221c1c" textLength="12.6" lengthAdjust="spacingAndGlyphs" stroke="#221c1c" stroke-width="0.1">30 DAF</text>
<text x="464.40" y="141.40" font-size="5.6" text-anchor="middle" fill="#221c1c" transform="rotate(-90 464.40000000000003 141.39999999999998)">FPKM</text>
<text x="542.60" y="138.35" font-size="5.6" text-anchor="middle" fill="#221c1c" transform="rotate(-90 542.6 138.35)">Relative expression</text>
<text x="404.60" y="192.60" font-size="5.4" text-anchor="middle" font-weight="bold" font-style="italic" fill="#1a1616" stroke="#1a1616" stroke-width="0.12">PfbZIP33</text>
<rect x="398.15" y="246.30" width="8.70" height="9.90" fill="#c98a2c"/>
<line x1="402.50" y1="241.20" x2="402.50" y2="246.30" stroke="#333" stroke-width="0.5"/>
<line x1="401.60" y1="241.20" x2="403.40" y2="241.20" stroke="#333" stroke-width="0.5"/>
<rect x="415.25" y="229.00" width="8.70" height="27.20" fill="#c98a2c"/>
<line x1="419.60" y1="218.90" x2="419.60" y2="229.00" stroke="#333" stroke-width="0.5"/>
<line x1="418.70" y1="218.90" x2="420.50" y2="218.90" stroke="#333" stroke-width="0.5"/>
<path d="M385.50,256.00 L402.50,234.30 L419.60,207.00" fill="none" stroke="#4677c9" stroke-width="0.9"/>
<rect x="384.50" y="255.00" width="2.00" height="2.00" fill="#4677c9"/>
<line x1="402.50" y1="231.80" x2="402.50" y2="236.90" stroke="#333" stroke-width="0.5"/>
<line x1="401.60" y1="231.80" x2="403.40" y2="231.80" stroke="#333" stroke-width="0.5"/>
<line x1="401.60" y1="236.90" x2="403.40" y2="236.90" stroke="#333" stroke-width="0.5"/>
<rect x="401.50" y="233.30" width="2.00" height="2.00" fill="#4677c9"/>
<line x1="419.60" y1="205.20" x2="419.60" y2="208.70" stroke="#333" stroke-width="0.5"/>
<line x1="418.70" y1="205.20" x2="420.50" y2="205.20" stroke="#333" stroke-width="0.5"/>
<line x1="418.70" y1="208.70" x2="420.50" y2="208.70" stroke="#333" stroke-width="0.5"/>
<rect x="418.60" y="206.00" width="2.00" height="2.00" fill="#4677c9"/>
<rect x="374.70" y="199.50" width="55.60" height="56.70" fill="none" stroke="#8a8482" stroke-width="0.8"/>
<line x1="373.50" y1="199.50" x2="374.70" y2="199.50" stroke="#444" stroke-width="0.5"/>
<text x="373.10" y="201.10" font-size="4.8" text-anchor="end" fill="#221c1c" stroke="#221c1c" stroke-width="0.1">40</text>
<line x1="373.50" y1="213.40" x2="374.70" y2="213.40" stroke="#444" stroke-width="0.5"/>
<text x="373.10" y="215.00" font-size="4.8" text-anchor="end" fill="#221c1c" stroke="#221c1c" stroke-width="0.1">30</text>
<line x1="373.50" y1="227.50" x2="374.70" y2="227.50" stroke="#444" stroke-width="0.5"/>
<text x="373.10" y="229.10" font-size="4.8" text-anchor="end" fill="#221c1c" stroke="#221c1c" stroke-width="0.1">20</text>
<line x1="373.50" y1="241.80" x2="374.70" y2="241.80" stroke="#444" stroke-width="0.5"/>
<text x="373.10" y="243.40" font-size="4.8" text-anchor="end" fill="#221c1c" stroke="#221c1c" stroke-width="0.1">10</text>
<line x1="373.50" y1="256.20" x2="374.70" y2="256.20" stroke="#444" stroke-width="0.5"/>
<text x="373.10" y="257.80" font-size="4.8" text-anchor="end" fill="#221c1c" stroke="#221c1c" stroke-width="0.1">0</text>
<line x1="429.10" y1="199.50" x2="430.30" y2="199.50" stroke="#444" stroke-width="0.5"/>
<text x="432.20" y="200.65" font-size="4.5" fill="#221c1c" stroke="#221c1c" stroke-width="0.08">60</text>
<line x1="429.10" y1="218.30" x2="430.30" y2="218.30" stroke="#444" stroke-width="0.5"/>
<text x="432.20" y="219.45" font-size="4.5" fill="#221c1c" stroke="#221c1c" stroke-width="0.08">40</text>
<line x1="429.10" y1="237.10" x2="430.30" y2="237.10" stroke="#444" stroke-width="0.5"/>
<text x="432.20" y="238.25" font-size="4.5" fill="#221c1c" stroke="#221c1c" stroke-width="0.08">20</text>
<line x1="429.10" y1="256.20" x2="430.30" y2="256.20" stroke="#444" stroke-width="0.5"/>
<text x="432.20" y="257.35" font-size="4.5" fill="#221c1c" stroke="#221c1c" stroke-width="0.08">0</text>
<line x1="385.50" y1="256.20" x2="385.50" y2="257.30" stroke="#444" stroke-width="0.5"/>
<line x1="402.50" y1="256.20" x2="402.50" y2="257.30" stroke="#444" stroke-width="0.5"/>
<line x1="419.60" y1="256.20" x2="419.60" y2="257.30" stroke="#444" stroke-width="0.5"/>
<text x="385.50" y="263.00" font-size="4.5" text-anchor="middle" fill="#221c1c" textLength="12.6" lengthAdjust="spacingAndGlyphs" stroke="#221c1c" stroke-width="0.1">10 DAF</text>
<text x="402.50" y="263.00" font-size="4.5" text-anchor="middle" fill="#221c1c" textLength="12.6" lengthAdjust="spacingAndGlyphs" stroke="#221c1c" stroke-width="0.1">20 DAF</text>
<text x="419.60" y="263.00" font-size="4.5" text-anchor="middle" fill="#221c1c" textLength="12.6" lengthAdjust="spacingAndGlyphs" stroke="#221c1c" stroke-width="0.1">30 DAF</text>
<text x="367.00" y="227.85" font-size="5.6" text-anchor="middle" fill="#221c1c" transform="rotate(-90 367.0 227.85)">FPKM</text>
<text x="445.20" y="227.85" font-size="5.6" text-anchor="middle" fill="#221c1c" transform="rotate(-90 445.2 227.85)">Relative expression</text>
<text x="502.50" y="192.60" font-size="5.4" text-anchor="middle" font-weight="bold" font-style="italic" fill="#1a1616" stroke="#1a1616" stroke-width="0.12">PfbZIP48</text>
<rect x="478.45" y="232.20" width="8.70" height="24.20" fill="#c98a2c"/>
<line x1="482.80" y1="224.70" x2="482.80" y2="232.20" stroke="#333" stroke-width="0.5"/>
<line x1="481.90" y1="224.70" x2="483.70" y2="224.70" stroke="#333" stroke-width="0.5"/>
<rect x="495.55" y="246.10" width="8.70" height="10.30" fill="#c98a2c"/>
<line x1="499.90" y1="244.40" x2="499.90" y2="246.10" stroke="#333" stroke-width="0.5"/>
<line x1="499.00" y1="244.40" x2="500.80" y2="244.40" stroke="#333" stroke-width="0.5"/>
<rect x="512.65" y="252.50" width="8.70" height="3.90" fill="#c98a2c"/>
<line x1="517.00" y1="250.00" x2="517.00" y2="252.50" stroke="#333" stroke-width="0.5"/>
<line x1="516.10" y1="250.00" x2="517.90" y2="250.00" stroke="#333" stroke-width="0.5"/>
<path d="M482.80,212.50 L499.90,231.30 L517.00,232.20" fill="none" stroke="#4677c9" stroke-width="0.9"/>
<line x1="482.80" y1="207.20" x2="482.80" y2="218.30" stroke="#333" stroke-width="0.5"/>
<line x1="481.90" y1="207.20" x2="483.70" y2="207.20" stroke="#333" stroke-width="0.5"/>
<line x1="481.90" y1="218.30" x2="483.70" y2="218.30" stroke="#333" stroke-width="0.5"/>
<rect x="481.80" y="211.50" width="2.00" height="2.00" fill="#4677c9"/>
<line x1="499.90" y1="229.00" x2="499.90" y2="233.90" stroke="#333" stroke-width="0.5"/>
<line x1="499.00" y1="229.00" x2="500.80" y2="229.00" stroke="#333" stroke-width="0.5"/>
<line x1="499.00" y1="233.90" x2="500.80" y2="233.90" stroke="#333" stroke-width="0.5"/>
<rect x="498.90" y="230.30" width="2.00" height="2.00" fill="#4677c9"/>
<line x1="517.00" y1="231.20" x2="517.00" y2="233.20" stroke="#333" stroke-width="0.5"/>
<line x1="516.10" y1="231.20" x2="517.90" y2="231.20" stroke="#333" stroke-width="0.5"/>
<line x1="516.10" y1="233.20" x2="517.90" y2="233.20" stroke="#333" stroke-width="0.5"/>
<rect x="516.00" y="231.20" width="2.00" height="2.00" fill="#4677c9"/>
<rect x="471.00" y="199.50" width="55.90" height="56.90" fill="none" stroke="#8a8482" stroke-width="0.8"/>
<line x1="469.80" y1="199.50" x2="471.00" y2="199.50" stroke="#444" stroke-width="0.5"/>
<text x="469.40" y="201.10" font-size="4.8" text-anchor="end" fill="#221c1c" stroke="#221c1c" stroke-width="0.1">25</text>
<line x1="469.80" y1="210.80" x2="471.00" y2="210.80" stroke="#444" stroke-width="0.5"/>
<text x="469.40" y="212.40" font-size="4.8" text-anchor="end" fill="#221c1c" stroke="#221c1c" stroke-width="0.1">20</text>
<line x1="469.80" y1="222.10" x2="471.00" y2="222.10" stroke="#444" stroke-width="0.5"/>
<text x="469.40" y="223.70" font-size="4.8" text-anchor="end" fill="#221c1c" stroke="#221c1c" stroke-width="0.1">15</text>
<line x1="469.80" y1="233.70" x2="471.00" y2="233.70" stroke="#444" stroke-width="0.5"/>
<text x="469.40" y="235.30" font-size="4.8" text-anchor="end" fill="#221c1c" stroke="#221c1c" stroke-width="0.1">10</text>
<line x1="469.80" y1="245.00" x2="471.00" y2="245.00" stroke="#444" stroke-width="0.5"/>
<text x="469.40" y="246.60" font-size="4.8" text-anchor="end" fill="#221c1c" stroke="#221c1c" stroke-width="0.1">5</text>
<line x1="469.80" y1="256.40" x2="471.00" y2="256.40" stroke="#444" stroke-width="0.5"/>
<text x="469.40" y="258.00" font-size="4.8" text-anchor="end" fill="#221c1c" stroke="#221c1c" stroke-width="0.1">0</text>
<line x1="525.70" y1="199.50" x2="526.90" y2="199.50" stroke="#444" stroke-width="0.5"/>
<text x="528.80" y="200.65" font-size="4.5" fill="#221c1c" stroke="#221c1c" stroke-width="0.08">1.5</text>
<line x1="525.70" y1="213.00" x2="526.90" y2="213.00" stroke="#444" stroke-width="0.5"/>
<text x="528.80" y="214.15" font-size="4.5" fill="#221c1c" stroke="#221c1c" stroke-width="0.08">1.0</text>
<line x1="525.70" y1="223.60" x2="526.90" y2="223.60" stroke="#444" stroke-width="0.5"/>
<text x="528.80" y="224.75" font-size="4.5" fill="#221c1c" stroke="#221c1c" stroke-width="0.08">0.5</text>
<line x1="525.70" y1="239.70" x2="526.90" y2="239.70" stroke="#444" stroke-width="0.5"/>
<text x="528.80" y="240.85" font-size="4.5" fill="#221c1c" stroke="#221c1c" stroke-width="0.08">0.1</text>
<line x1="525.70" y1="256.40" x2="526.90" y2="256.40" stroke="#444" stroke-width="0.5"/>
<text x="528.80" y="257.55" font-size="4.5" fill="#221c1c" stroke="#221c1c" stroke-width="0.08">0.0</text>
<rect x="525.90" y="233.40" width="2" height="1.8" fill="#fff"/>
<line x1="525.70" y1="235.90" x2="528.20" y2="232.40" stroke="#222" stroke-width="0.75"/>
<line x1="526.50" y1="236.50" x2="528.50" y2="233.70" stroke="#222" stroke-width="0.6"/>
<line x1="482.80" y1="256.40" x2="482.80" y2="257.50" stroke="#444" stroke-width="0.5"/>
<line x1="499.90" y1="256.40" x2="499.90" y2="257.50" stroke="#444" stroke-width="0.5"/>
<line x1="517.00" y1="256.40" x2="517.00" y2="257.50" stroke="#444" stroke-width="0.5"/>
<text x="482.80" y="263.20" font-size="4.5" text-anchor="middle" fill="#221c1c" textLength="12.6" lengthAdjust="spacingAndGlyphs" stroke="#221c1c" stroke-width="0.1">10 DAF</text>
<text x="499.90" y="263.20" font-size="4.5" text-anchor="middle" fill="#221c1c" textLength="12.6" lengthAdjust="spacingAndGlyphs" stroke="#221c1c" stroke-width="0.1">20 DAF</text>
<text x="517.00" y="263.20" font-size="4.5" text-anchor="middle" fill="#221c1c" textLength="12.6" lengthAdjust="spacingAndGlyphs" stroke="#221c1c" stroke-width="0.1">30 DAF</text>
<text x="463.30" y="227.95" font-size="5.6" text-anchor="middle" fill="#221c1c" transform="rotate(-90 463.3 227.95)">FPKM</text>
<text x="541.80" y="226.25" font-size="5.6" text-anchor="middle" fill="#221c1c" transform="rotate(-90 541.8 226.25)">Relative expression</text>
<text x="404.90" y="282.50" font-size="5.4" text-anchor="middle" font-weight="bold" font-style="italic" fill="#1a1616" stroke="#1a1616" stroke-width="0.12">PfbZIP71</text>
<rect x="381.15" y="323.53" width="8.70" height="23.07" fill="#c98a2c"/>
<line x1="385.50" y1="291.29" x2="385.50" y2="323.53" stroke="#333" stroke-width="0.5"/>
<line x1="384.60" y1="291.29" x2="386.40" y2="291.29" stroke="#333" stroke-width="0.5"/>
<rect x="398.15" y="331.32" width="8.70" height="15.28" fill="#c98a2c"/>
<line x1="402.50" y1="327.27" x2="402.50" y2="331.32" stroke="#333" stroke-width="0.5"/>
<line x1="401.60" y1="327.27" x2="403.40" y2="327.27" stroke="#333" stroke-width="0.5"/>
<rect x="415.25" y="343.94" width="8.70" height="2.66" fill="#c98a2c"/>
<line x1="419.60" y1="340.59" x2="419.60" y2="343.94" stroke="#333" stroke-width="0.5"/>
<line x1="418.70" y1="340.59" x2="420.50" y2="340.59" stroke="#333" stroke-width="0.5"/>
<path d="M385.50,303.41 L402.50,303.41 L419.60,319.98" fill="none" stroke="#4677c9" stroke-width="0.9"/>
<rect x="384.50" y="302.41" width="2.00" height="2.00" fill="#4677c9"/>
<line x1="402.50" y1="301.34" x2="402.50" y2="305.58" stroke="#333" stroke-width="0.5"/>
<line x1="401.60" y1="301.34" x2="403.40" y2="301.34" stroke="#333" stroke-width="0.5"/>
<line x1="401.60" y1="305.58" x2="403.40" y2="305.58" stroke="#333" stroke-width="0.5"/>
<rect x="401.50" y="302.41" width="2.00" height="2.00" fill="#4677c9"/>
<line x1="419.60" y1="317.32" x2="419.60" y2="322.84" stroke="#333" stroke-width="0.5"/>
<line x1="418.70" y1="317.32" x2="420.50" y2="317.32" stroke="#333" stroke-width="0.5"/>
<line x1="418.70" y1="322.84" x2="420.50" y2="322.84" stroke="#333" stroke-width="0.5"/>
<rect x="418.60" y="318.98" width="2.00" height="2.00" fill="#4677c9"/>
<rect x="374.40" y="290.30" width="56.10" height="56.30" fill="none" stroke="#8a8482" stroke-width="0.8"/>
<line x1="373.20" y1="290.30" x2="374.40" y2="290.30" stroke="#444" stroke-width="0.5"/>
<text x="372.80" y="291.90" font-size="4.8" text-anchor="end" fill="#221c1c" stroke="#221c1c" stroke-width="0.1">20</text>
<line x1="373.20" y1="304.70" x2="374.40" y2="304.70" stroke="#444" stroke-width="0.5"/>
<text x="372.80" y="306.30" font-size="4.8" text-anchor="end" fill="#221c1c" stroke="#221c1c" stroke-width="0.1">15</text>
<line x1="373.20" y1="318.89" x2="374.40" y2="318.89" stroke="#444" stroke-width="0.5"/>
<text x="372.80" y="320.49" font-size="4.8" text-anchor="end" fill="#221c1c" stroke="#221c1c" stroke-width="0.1">10</text>
<line x1="373.20" y1="332.80" x2="374.40" y2="332.80" stroke="#444" stroke-width="0.5"/>
<text x="372.80" y="334.40" font-size="4.8" text-anchor="end" fill="#221c1c" stroke="#221c1c" stroke-width="0.1">5</text>
<line x1="373.20" y1="346.60" x2="374.40" y2="346.60" stroke="#444" stroke-width="0.5"/>
<text x="372.80" y="348.20" font-size="4.8" text-anchor="end" fill="#221c1c" stroke="#221c1c" stroke-width="0.1">0</text>
<line x1="429.30" y1="290.30" x2="430.50" y2="290.30" stroke="#444" stroke-width="0.5"/>
<text x="432.40" y="291.45" font-size="4.5" fill="#221c1c" stroke="#221c1c" stroke-width="0.08">1.5</text>
<line x1="429.30" y1="304.01" x2="430.50" y2="304.01" stroke="#444" stroke-width="0.5"/>
<text x="432.40" y="305.16" font-size="4.5" fill="#221c1c" stroke="#221c1c" stroke-width="0.08">1.0</text>
<line x1="429.30" y1="319.09" x2="430.50" y2="319.09" stroke="#444" stroke-width="0.5"/>
<text x="432.40" y="320.24" font-size="4.5" fill="#221c1c" stroke="#221c1c" stroke-width="0.08">0.5</text>
<line x1="429.30" y1="331.02" x2="430.50" y2="331.02" stroke="#444" stroke-width="0.5"/>
<text x="432.40" y="332.17" font-size="4.5" fill="#221c1c" stroke="#221c1c" stroke-width="0.08">0.2</text>
<line x1="429.30" y1="338.81" x2="430.50" y2="338.81" stroke="#444" stroke-width="0.5"/>
<text x="432.40" y="339.96" font-size="4.5" fill="#221c1c" stroke="#221c1c" stroke-width="0.08">0.1</text>
<line x1="429.30" y1="346.60" x2="430.50" y2="346.60" stroke="#444" stroke-width="0.5"/>
<text x="432.40" y="347.75" font-size="4.5" fill="#221c1c" stroke="#221c1c" stroke-width="0.08">0.0</text>
<rect x="429.50" y="325.29" width="2" height="1.8" fill="#fff"/>
<line x1="429.30" y1="327.79" x2="431.80" y2="324.29" stroke="#222" stroke-width="0.75"/>
<line x1="430.10" y1="328.39" x2="432.10" y2="325.59" stroke="#222" stroke-width="0.6"/>
<line x1="385.50" y1="346.60" x2="385.50" y2="347.70" stroke="#444" stroke-width="0.5"/>
<line x1="402.50" y1="346.60" x2="402.50" y2="347.70" stroke="#444" stroke-width="0.5"/>
<line x1="419.60" y1="346.60" x2="419.60" y2="347.70" stroke="#444" stroke-width="0.5"/>
<text x="385.50" y="353.40" font-size="4.5" text-anchor="middle" fill="#221c1c" textLength="12.6" lengthAdjust="spacingAndGlyphs" stroke="#221c1c" stroke-width="0.1">10 DAF</text>
<text x="402.50" y="353.40" font-size="4.5" text-anchor="middle" fill="#221c1c" textLength="12.6" lengthAdjust="spacingAndGlyphs" stroke="#221c1c" stroke-width="0.1">20 DAF</text>
<text x="419.60" y="353.40" font-size="4.5" text-anchor="middle" fill="#221c1c" textLength="12.6" lengthAdjust="spacingAndGlyphs" stroke="#221c1c" stroke-width="0.1">30 DAF</text>
<text x="366.70" y="319.30" font-size="5.6" text-anchor="middle" fill="#221c1c" transform="rotate(-90 366.7 319.30000000000007)">FPKM</text>
<text x="445.40" y="318.45" font-size="5.6" text-anchor="middle" fill="#221c1c" transform="rotate(-90 445.4 318.45000000000005)">Relative expression</text>
<text x="503.30" y="282.50" font-size="5.4" text-anchor="middle" font-weight="bold" font-style="italic" fill="#1a1616" stroke="#1a1616" stroke-width="0.12">PfbZIP91</text>
<rect x="479.15" y="335.06" width="8.70" height="11.54" fill="#c98a2c"/>
<line x1="483.50" y1="328.36" x2="483.50" y2="335.06" stroke="#333" stroke-width="0.5"/>
<line x1="482.60" y1="328.36" x2="484.40" y2="328.36" stroke="#333" stroke-width="0.5"/>
<rect x="495.75" y="308.94" width="8.70" height="37.66" fill="#c98a2c"/>
<line x1="500.10" y1="294.54" x2="500.10" y2="308.94" stroke="#333" stroke-width="0.5"/>
<line x1="499.20" y1="294.54" x2="501.00" y2="294.54" stroke="#333" stroke-width="0.5"/>
<rect x="512.95" y="336.15" width="8.70" height="10.45" fill="#c98a2c"/>
<line x1="517.30" y1="332.40" x2="517.30" y2="336.15" stroke="#333" stroke-width="0.5"/>
<line x1="516.40" y1="332.40" x2="518.20" y2="332.40" stroke="#333" stroke-width="0.5"/>
<path d="M483.50,322.84 L500.10,298.98 L517.30,305.58" fill="none" stroke="#4677c9" stroke-width="0.9"/>
<line x1="483.50" y1="321.36" x2="483.50" y2="324.32" stroke="#333" stroke-width="0.5"/>
<line x1="482.60" y1="321.36" x2="484.40" y2="321.36" stroke="#333" stroke-width="0.5"/>
<line x1="482.60" y1="324.32" x2="484.40" y2="324.32" stroke="#333" stroke-width="0.5"/>
<rect x="482.50" y="321.84" width="2.00" height="2.00" fill="#4677c9"/>
<line x1="500.10" y1="294.05" x2="500.10" y2="303.61" stroke="#333" stroke-width="0.5"/>
<line x1="499.20" y1="294.05" x2="501.00" y2="294.05" stroke="#333" stroke-width="0.5"/>
<line x1="499.20" y1="303.61" x2="501.00" y2="303.61" stroke="#333" stroke-width="0.5"/>
<rect x="499.10" y="297.98" width="2.00" height="2.00" fill="#4677c9"/>
<line x1="517.30" y1="296.31" x2="517.30" y2="314.65" stroke="#333" stroke-width="0.5"/>
<line x1="516.40" y1="296.31" x2="518.20" y2="296.31" stroke="#333" stroke-width="0.5"/>
<line x1="516.40" y1="314.65" x2="518.20" y2="314.65" stroke="#333" stroke-width="0.5"/>
<rect x="516.30" y="304.58" width="2.00" height="2.00" fill="#4677c9"/>
<rect x="471.90" y="290.30" width="57.00" height="56.30" fill="none" stroke="#8a8482" stroke-width="0.8"/>
<line x1="470.70" y1="290.30" x2="471.90" y2="290.30" stroke="#444" stroke-width="0.5"/>
<text x="470.30" y="291.90" font-size="4.8" text-anchor="end" fill="#221c1c" stroke="#221c1c" stroke-width="0.1">20</text>
<line x1="470.70" y1="304.70" x2="471.90" y2="304.70" stroke="#444" stroke-width="0.5"/>
<text x="470.30" y="306.30" font-size="4.8" text-anchor="end" fill="#221c1c" stroke="#221c1c" stroke-width="0.1">15</text>
<line x1="470.70" y1="318.89" x2="471.90" y2="318.89" stroke="#444" stroke-width="0.5"/>
<text x="470.30" y="320.49" font-size="4.8" text-anchor="end" fill="#221c1c" stroke="#221c1c" stroke-width="0.1">10</text>
<line x1="470.70" y1="332.80" x2="471.90" y2="332.80" stroke="#444" stroke-width="0.5"/>
<text x="470.30" y="334.40" font-size="4.8" text-anchor="end" fill="#221c1c" stroke="#221c1c" stroke-width="0.1">5</text>
<line x1="470.70" y1="346.60" x2="471.90" y2="346.60" stroke="#444" stroke-width="0.5"/>
<text x="470.30" y="348.20" font-size="4.8" text-anchor="end" fill="#221c1c" stroke="#221c1c" stroke-width="0.1">0</text>
<line x1="527.70" y1="290.30" x2="528.90" y2="290.30" stroke="#444" stroke-width="0.5"/>
<text x="530.80" y="291.45" font-size="4.5" fill="#221c1c" stroke="#221c1c" stroke-width="0.08">5</text>
<line x1="527.70" y1="298.98" x2="528.90" y2="298.98" stroke="#444" stroke-width="0.5"/>
<text x="530.80" y="300.13" font-size="4.5" fill="#221c1c" stroke="#221c1c" stroke-width="0.08">4</text>
<line x1="527.70" y1="305.78" x2="528.90" y2="305.78" stroke="#444" stroke-width="0.5"/>
<text x="530.80" y="306.93" font-size="4.5" fill="#221c1c" stroke="#221c1c" stroke-width="0.08">3</text>
<line x1="527.70" y1="313.96" x2="528.90" y2="313.96" stroke="#444" stroke-width="0.5"/>
<text x="530.80" y="315.11" font-size="4.5" fill="#221c1c" stroke="#221c1c" stroke-width="0.08">2</text>
<line x1="527.70" y1="322.25" x2="528.90" y2="322.25" stroke="#444" stroke-width="0.5"/>
<text x="530.80" y="323.40" font-size="4.5" fill="#221c1c" stroke="#221c1c" stroke-width="0.08">1</text>
<line x1="527.70" y1="331.02" x2="528.90" y2="331.02" stroke="#444" stroke-width="0.5"/>
<text x="530.80" y="332.17" font-size="4.5" fill="#221c1c" stroke="#221c1c" stroke-width="0.08">0.2</text>
<line x1="527.70" y1="338.81" x2="528.90" y2="338.81" stroke="#444" stroke-width="0.5"/>
<text x="530.80" y="339.96" font-size="4.5" fill="#221c1c" stroke="#221c1c" stroke-width="0.08">0.1</text>
<line x1="527.70" y1="346.60" x2="528.90" y2="346.60" stroke="#444" stroke-width="0.5"/>
<text x="530.80" y="347.75" font-size="4.5" fill="#221c1c" stroke="#221c1c" stroke-width="0.08">0.0</text>
<rect x="527.90" y="325.29" width="2" height="1.8" fill="#fff"/>
<line x1="527.70" y1="327.79" x2="530.20" y2="324.29" stroke="#222" stroke-width="0.75"/>
<line x1="528.50" y1="328.39" x2="530.50" y2="325.59" stroke="#222" stroke-width="0.6"/>
<line x1="483.50" y1="346.60" x2="483.50" y2="347.70" stroke="#444" stroke-width="0.5"/>
<line x1="500.10" y1="346.60" x2="500.10" y2="347.70" stroke="#444" stroke-width="0.5"/>
<line x1="517.30" y1="346.60" x2="517.30" y2="347.70" stroke="#444" stroke-width="0.5"/>
<text x="483.50" y="353.40" font-size="4.5" text-anchor="middle" fill="#221c1c" textLength="12.6" lengthAdjust="spacingAndGlyphs" stroke="#221c1c" stroke-width="0.1">10 DAF</text>
<text x="500.10" y="353.40" font-size="4.5" text-anchor="middle" fill="#221c1c" textLength="12.6" lengthAdjust="spacingAndGlyphs" stroke="#221c1c" stroke-width="0.1">20 DAF</text>
<text x="517.30" y="353.40" font-size="4.5" text-anchor="middle" fill="#221c1c" textLength="12.6" lengthAdjust="spacingAndGlyphs" stroke="#221c1c" stroke-width="0.1">30 DAF</text>
<text x="464.20" y="318.45" font-size="5.6" text-anchor="middle" fill="#221c1c" transform="rotate(-90 464.2 318.45000000000005)">FPKM</text>
<text x="543.80" y="317.55" font-size="5.6" text-anchor="middle" fill="#221c1c" transform="rotate(-90 543.8 317.55000000000007)">Relative expression</text>
<rect x="401.60" y="362.30" width="6.40" height="1.40" fill="#c98a2c"/>
<text x="411.00" y="364.90" font-size="6.3" fill="#231f20">RNA-Seq</text>
<rect x="468.50" y="362.50" width="5.50" height="1.00" fill="#4677c9"/>
<text x="477.00" y="364.90" font-size="6.3" fill="#231f20">qRT-PCR</text>
</svg></body></html>
